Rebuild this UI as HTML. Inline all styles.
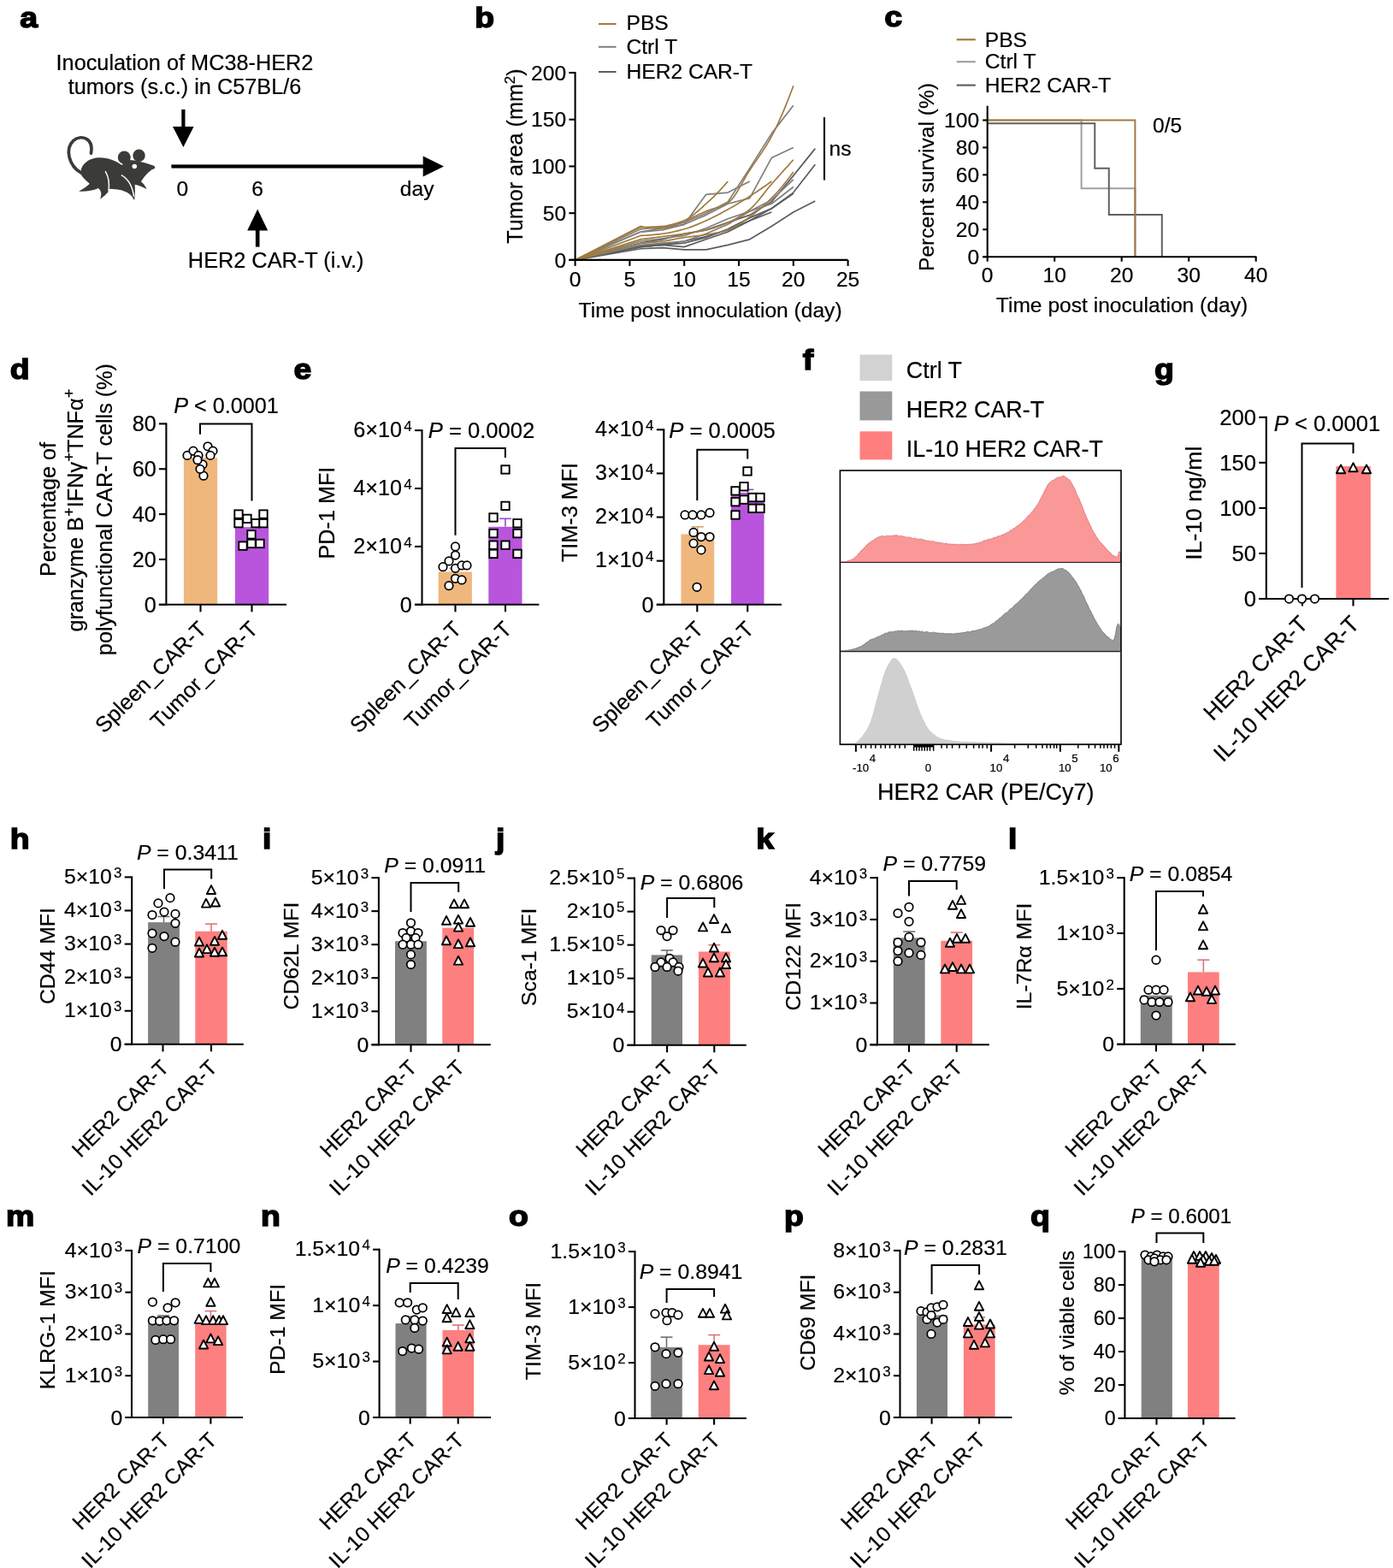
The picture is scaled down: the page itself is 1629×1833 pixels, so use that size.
<!DOCTYPE html>
<html><head><meta charset="utf-8"><title>Figure</title>
<style>
html,body{margin:0;padding:0;background:#fff;}
svg{display:block;}
text{font-family:"Liberation Sans", Arial, Helvetica, sans-serif;stroke:#000;stroke-width:0.2px;}
</style></head>
<body>
<svg width="1629" height="1833" viewBox="0 0 1629 1833">
<rect width="1629" height="1833" fill="#fff"/>
<text transform="translate(23.30,32.00) scale(1.1,1)" font-size="34" font-weight="bold" style="stroke-width:1.5px">a</text>
<text x="216.00" y="81.50" font-size="25.3" text-anchor="middle">Inoculation of MC38-HER2</text>
<text x="216.00" y="110.00" font-size="25.3" text-anchor="middle">tumors (s.c.) in C57BL/6</text>
<rect x="212.30" y="128.00" width="4.20" height="22.00" fill="#000"/>
<polygon points="202.00,148.00 226.60,148.00 214.40,172.00" fill="#000"/>
<rect x="200.40" y="192.40" width="296.00" height="4.20" fill="#000"/>
<polygon points="494.70,182.60 519.00,194.50 494.70,206.40" fill="#000"/>
<text x="213.30" y="228.70" font-size="24.6" text-anchor="middle">0</text>
<text x="301.20" y="228.70" font-size="24.6" text-anchor="middle">6</text>
<text x="507.50" y="228.70" font-size="24.6" text-anchor="end">day</text>
<polygon points="301.20,244.60 313.20,269.50 289.20,269.50" fill="#000"/>
<rect x="298.90" y="268.00" width="4.60" height="20.60" fill="#000"/>
<text x="322.70" y="313.40" font-size="25.3" text-anchor="middle">HER2 CAR-T (i.v.)</text>
<g transform="translate(70,150) scale(0.073665)">
<path d="M 335 705 C 150 600, 70 330, 215 195 C 330 95, 540 150, 495 395" fill="none" stroke="#3b3b37" stroke-width="50" stroke-linecap="round"/>
<path d="M 340 640 C 380 540, 480 470, 620 465 C 760 460, 900 520, 985 585 L 1000 500 L 1140 505 C 1250 515, 1380 555, 1480 590 C 1525 605, 1520 645, 1465 652 C 1400 700, 1320 780, 1290 850 C 1330 880, 1360 920, 1378 968 C 1310 925, 1250 905, 1190 892 C 1195 960, 1195 1060, 1182 1142 C 1120 1030, 1050 975, 790 962 C 780 1020, 700 1080, 640 1125 C 660 1060, 670 1000, 610 950 C 520 990, 400 1010, 300 1000 C 380 960, 440 915, 472 880 C 400 820, 350 770, 330 720 Z" fill="#3b3b37"/>
<circle cx="1022" cy="462" r="102" fill="#3b3b37"/>
<circle cx="1256" cy="432" r="98" fill="#3b3b37"/>
<circle cx="1185" cy="605" r="38" fill="#fff"/>
<path d="M 935 530 A 108 108 0 0 0 1000 572" fill="none" stroke="#fff" stroke-width="12"/>
<path d="M 1128 470 L 1152 505 L 1160 460 Z" fill="#fff"/>
<path d="M 722 680 C 780 780, 792 880, 772 1000" fill="none" stroke="#fff" stroke-width="20"/>
<path d="M 975 742 C 1080 800, 1150 900, 1176 1085" fill="none" stroke="#fff" stroke-width="20"/>
</g>
<text transform="translate(555.30,31.70) scale(1.1,1)" font-size="34" font-weight="bold" style="stroke-width:1.5px">b</text>
<line x1="700.00" y1="28.00" x2="720.50" y2="28.00" stroke="#a07b3e" stroke-width="2.0" stroke-linecap="butt"/>
<text x="732.50" y="35.40" font-size="24.6">PBS</text>
<line x1="700.00" y1="54.80" x2="720.50" y2="54.80" stroke="#7f7f7f" stroke-width="2.0" stroke-linecap="butt"/>
<text x="732.50" y="62.90" font-size="24.6">Ctrl T</text>
<line x1="700.00" y1="84.00" x2="720.50" y2="84.00" stroke="#5a5d60" stroke-width="2.0" stroke-linecap="butt"/>
<text x="732.50" y="92.30" font-size="24.6">HER2 CAR-T</text>
<polyline points="672.60,303.90 749.16,290.77 774.68,289.67 800.20,291.86 825.72,291.86 851.24,286.39 876.76,279.82 902.28,264.50 927.80,248.08 953.32,234.95" fill="none" stroke="#5a5d60" stroke-width="1.7" stroke-linejoin="round"/>
<polyline points="672.60,303.90 749.16,288.58 774.68,286.39 800.20,288.58 825.72,279.82 851.24,271.06 876.76,257.93 902.28,243.70 927.80,225.10 953.32,192.26" fill="none" stroke="#5a5d60" stroke-width="1.7" stroke-linejoin="round"/>
<polyline points="672.60,303.90 749.16,284.20 774.68,279.82 800.20,273.25 825.72,268.88 851.24,260.12 876.76,251.36 902.28,236.04 927.80,205.39 953.32,173.65" fill="none" stroke="#5a5d60" stroke-width="1.7" stroke-linejoin="round"/>
<polyline points="672.60,303.90 749.16,287.48 774.68,285.29 800.20,282.01 825.72,276.54 851.24,268.88 876.76,257.93 902.28,248.08" fill="none" stroke="#5a5d60" stroke-width="1.7" stroke-linejoin="round"/>
<polyline points="672.60,303.90 749.16,288.58 774.68,286.39 800.20,284.20 825.72,277.63 851.24,267.78 876.76,254.65 902.28,243.70 927.80,226.19" fill="none" stroke="#5a5d60" stroke-width="1.7" stroke-linejoin="round"/>
<polyline points="672.60,303.90 749.16,286.39 774.68,284.20 800.20,282.01 825.72,273.25 851.24,262.31 876.76,246.99 902.28,238.23 927.80,218.53" fill="none" stroke="#7f7f7f" stroke-width="1.7" stroke-linejoin="round"/>
<polyline points="672.60,303.90 749.16,271.06 774.68,268.88 800.20,262.31 825.72,227.28 851.24,225.10 876.76,211.96" fill="none" stroke="#7f7f7f" stroke-width="1.7" stroke-linejoin="round"/>
<polyline points="672.60,303.90 749.16,271.06 774.68,266.69 800.20,262.31 825.72,251.36 851.24,238.23 876.76,231.66 902.28,184.60 927.80,172.56" fill="none" stroke="#7f7f7f" stroke-width="1.7" stroke-linejoin="round"/>
<polyline points="672.60,303.90 749.16,267.78 774.68,265.59 800.20,260.12 825.72,249.17 851.24,236.04 876.76,196.64 902.28,156.14 927.80,123.31" fill="none" stroke="#7f7f7f" stroke-width="1.7" stroke-linejoin="round"/>
<polyline points="672.60,303.90 749.16,282.01 774.68,278.73 800.20,275.44 825.72,266.69 851.24,255.74 876.76,246.99 902.28,233.85 927.80,209.77" fill="none" stroke="#7f7f7f" stroke-width="1.7" stroke-linejoin="round"/>
<polyline points="672.60,303.90 749.16,284.20 752.14,284.05 755.11,283.87 758.09,283.65 761.07,283.41 764.05,283.14 767.02,282.84 770.00,282.53 772.98,282.20 775.96,281.86 778.93,281.43 781.91,280.95 784.89,280.41 787.87,279.84 790.84,279.27 793.82,278.71 796.80,278.18 799.77,277.70 802.75,277.27 805.73,276.89 808.71,276.53 811.68,276.18 814.66,275.84 817.64,275.48 820.62,275.10 823.59,274.68 826.57,274.21 829.55,273.73 832.53,273.22 835.50,272.69 838.48,272.11 841.46,271.48 844.43,270.78 847.41,270.00 850.39,269.14 853.37,268.12 856.34,266.83 859.32,265.28 862.30,263.53 865.28,261.62 868.25,259.60 871.23,257.50 874.21,255.37 877.19,253.25 880.16,251.08 883.14,248.79 886.12,246.41 889.09,243.91 892.07,241.32 895.05,238.62 898.03,235.82 901.00,232.93 903.98,229.93 906.96,226.79 909.94,223.50 912.91,220.06 915.89,216.49 918.87,212.80 921.85,208.98 924.82,205.05 927.80,201.02" fill="none" stroke="#a07b3e" stroke-width="1.7" stroke-linejoin="round"/>
<polyline points="672.60,303.90 749.16,279.82 752.14,279.44 755.11,279.05 758.09,278.67 761.07,278.29 764.05,277.91 767.02,277.52 770.00,277.14 772.98,276.76 775.96,276.37 778.93,276.00 781.91,275.63 784.89,275.27 787.87,274.90 790.84,274.53 793.82,274.14 796.80,273.74 799.77,273.32 802.75,272.88 805.73,272.44 808.71,272.00 811.68,271.53 814.66,271.04 817.64,270.52 820.62,269.96 823.59,269.35 826.57,268.68 829.55,267.92 832.53,267.08 835.50,266.16 838.48,265.16 841.46,264.09 844.43,262.95 847.41,261.75 850.39,260.49 853.37,259.17 856.34,257.75 859.32,256.22 862.30,254.58 865.28,252.82 868.25,250.93 871.23,248.92 874.21,246.76 877.19,244.46 880.16,241.79 883.14,238.70 886.12,235.29 889.09,231.66 892.07,227.89 895.05,224.08 898.03,220.32 901.00,216.72 903.98,213.31 906.96,209.95 909.94,206.59 912.91,203.26 915.89,199.93 918.87,196.62 921.85,193.33 924.82,190.05 927.80,186.79" fill="none" stroke="#a07b3e" stroke-width="1.7" stroke-linejoin="round"/>
<polyline points="672.60,303.90 749.16,264.50 750.86,264.91 752.56,265.26 754.26,265.57 755.97,265.82 757.67,266.04 759.37,266.21 761.07,266.35 762.77,266.46 764.47,266.55 766.17,266.61 767.87,266.65 769.58,266.67 771.28,266.68 772.98,266.69 774.68,266.69 776.38,266.63 778.08,266.45 779.78,266.16 781.49,265.78 783.19,265.31 784.89,264.77 786.59,264.15 788.29,263.48 789.99,262.76 791.69,262.00 793.39,261.21 795.10,260.39 796.80,259.57 798.50,258.75 800.20,257.93 801.90,257.07 803.60,256.11 805.30,255.05 807.01,253.91 808.71,252.70 810.41,251.41 812.11,250.07 813.81,248.68 815.51,247.24 817.21,245.78 818.91,244.28 820.62,242.77 822.32,241.26 824.02,239.74 825.72,238.23 827.42,236.71 829.12,235.15 830.82,233.56 832.53,231.93 834.23,230.27 835.93,228.58 837.63,226.85 839.33,225.09 841.03,223.30 842.73,221.48 844.43,219.63 846.14,217.76 847.84,215.85 849.54,213.92 851.24,211.96" fill="none" stroke="#a07b3e" stroke-width="1.7" stroke-linejoin="round"/>
<polyline points="672.60,303.90 749.16,275.44 751.71,275.37 754.26,275.25 756.82,275.09 759.37,274.89 761.92,274.67 764.47,274.42 767.02,274.15 769.58,273.86 772.13,273.56 774.68,273.25 777.23,272.91 779.78,272.51 782.34,272.06 784.89,271.55 787.44,271.01 789.99,270.42 792.54,269.80 795.10,269.15 797.65,268.48 800.20,267.78 802.75,267.04 805.30,266.22 807.86,265.33 810.41,264.38 812.96,263.38 815.51,262.34 818.06,261.27 820.62,260.17 823.17,259.06 825.72,257.93 828.27,256.78 830.82,255.58 833.38,254.33 835.93,253.04 838.48,251.72 841.03,250.38 843.58,249.00 846.14,247.61 848.69,246.21 851.24,244.80 853.79,243.37 856.34,241.92 858.90,240.44 861.45,238.94 864.00,237.41 866.55,235.86 869.10,234.30 871.66,232.71 874.21,231.10 876.76,229.47 879.31,227.83 881.86,226.16 884.42,224.46 886.97,222.74 889.52,221.00 892.07,219.24 894.62,217.45 897.18,215.64 899.73,213.81 902.28,211.96" fill="none" stroke="#a07b3e" stroke-width="1.7" stroke-linejoin="round"/>
<polyline points="672.60,303.90 749.16,265.59 752.14,265.57 755.11,265.52 758.09,265.43 761.07,265.32 764.05,265.18 767.02,265.01 770.00,264.82 772.98,264.62 775.96,264.39 778.93,263.98 781.91,263.41 784.89,262.70 787.87,261.88 790.84,260.98 793.82,260.02 796.80,259.04 799.77,258.07 802.75,257.05 805.73,255.90 808.71,254.65 811.68,253.31 814.66,251.94 817.64,250.55 820.62,249.19 823.59,247.88 826.57,246.65 829.55,245.56 832.53,244.59 835.50,243.66 838.48,242.72 841.46,241.71 844.43,240.57 847.41,239.23 850.39,237.64 853.37,235.53 856.34,232.39 859.32,228.39 862.30,223.74 865.28,218.66 868.25,213.35 871.23,208.03 874.21,202.91 877.19,198.18 880.16,193.75 883.14,189.42 886.12,185.13 889.09,180.81 892.07,176.37 895.05,171.77 898.03,166.92 901.00,161.75 903.98,156.21 906.96,150.31 909.94,144.05 912.91,137.47 915.89,130.58 918.87,123.41 921.85,115.96 924.82,108.26 927.80,100.32" fill="none" stroke="#a07b3e" stroke-width="1.7" stroke-linejoin="round"/>
<line x1="672.60" y1="84.00" x2="672.60" y2="304.90" stroke="#000" stroke-width="2.1" stroke-linecap="butt"/>
<line x1="665.40" y1="303.90" x2="991.50" y2="303.90" stroke="#000" stroke-width="2.1" stroke-linecap="butt"/>
<line x1="665.40" y1="303.90" x2="672.60" y2="303.90" stroke="#000" stroke-width="2.1" stroke-linecap="butt"/>
<text x="662.10" y="312.50" font-size="24.6" text-anchor="end">0</text>
<line x1="665.40" y1="249.17" x2="672.60" y2="249.17" stroke="#000" stroke-width="2.1" stroke-linecap="butt"/>
<text x="662.10" y="257.77" font-size="24.6" text-anchor="end">50</text>
<line x1="665.40" y1="194.45" x2="672.60" y2="194.45" stroke="#000" stroke-width="2.1" stroke-linecap="butt"/>
<text x="662.10" y="203.05" font-size="24.6" text-anchor="end">100</text>
<line x1="665.40" y1="139.72" x2="672.60" y2="139.72" stroke="#000" stroke-width="2.1" stroke-linecap="butt"/>
<text x="662.10" y="148.32" font-size="24.6" text-anchor="end">150</text>
<line x1="665.40" y1="85.00" x2="672.60" y2="85.00" stroke="#000" stroke-width="2.1" stroke-linecap="butt"/>
<text x="662.10" y="93.60" font-size="24.6" text-anchor="end">200</text>
<line x1="672.60" y1="303.90" x2="672.60" y2="310.90" stroke="#000" stroke-width="2.1" stroke-linecap="butt"/>
<text x="672.60" y="334.70" font-size="24.6" text-anchor="middle">0</text>
<line x1="736.40" y1="303.90" x2="736.40" y2="310.90" stroke="#000" stroke-width="2.1" stroke-linecap="butt"/>
<text x="736.40" y="334.70" font-size="24.6" text-anchor="middle">5</text>
<line x1="800.20" y1="303.90" x2="800.20" y2="310.90" stroke="#000" stroke-width="2.1" stroke-linecap="butt"/>
<text x="800.20" y="334.70" font-size="24.6" text-anchor="middle">10</text>
<line x1="864.00" y1="303.90" x2="864.00" y2="310.90" stroke="#000" stroke-width="2.1" stroke-linecap="butt"/>
<text x="864.00" y="334.70" font-size="24.6" text-anchor="middle">15</text>
<line x1="927.80" y1="303.90" x2="927.80" y2="310.90" stroke="#000" stroke-width="2.1" stroke-linecap="butt"/>
<text x="927.80" y="334.70" font-size="24.6" text-anchor="middle">20</text>
<line x1="991.60" y1="303.90" x2="991.60" y2="310.90" stroke="#000" stroke-width="2.1" stroke-linecap="butt"/>
<text x="991.60" y="334.70" font-size="24.6" text-anchor="middle">25</text>
<text x="830.60" y="370.70" font-size="24.6" text-anchor="middle">Time post innoculation (day)</text>
<text transform="translate(611.00,182.50) rotate(-90)" font-size="25.2" text-anchor="middle">Tumor area (mm<tspan font-size="17" dy="-9.5">2</tspan><tspan dy="9.5">)</tspan></text>
<line x1="964.00" y1="137.00" x2="964.00" y2="210.60" stroke="#000" stroke-width="2.1" stroke-linecap="butt"/>
<text x="969.50" y="181.80" font-size="24.6">ns</text>
<text transform="translate(1034.30,31.00) scale(1.1,1)" font-size="34" font-weight="bold" style="stroke-width:1.5px">c</text>
<line x1="1118.70" y1="46.30" x2="1140.80" y2="46.30" stroke="#a07b3e" stroke-width="2.2" stroke-linecap="butt"/>
<text x="1151.80" y="54.50" font-size="24.6">PBS</text>
<line x1="1118.70" y1="72.20" x2="1140.80" y2="72.20" stroke="#a0a0a0" stroke-width="2.2" stroke-linecap="butt"/>
<text x="1151.80" y="80.40" font-size="24.6">Ctrl T</text>
<line x1="1118.70" y1="99.60" x2="1140.80" y2="99.60" stroke="#606060" stroke-width="2.2" stroke-linecap="butt"/>
<text x="1151.80" y="107.50" font-size="24.6">HER2 CAR-T</text>
<polyline points="1154.70,140.50 1264.60,140.50 1264.60,220.35 1327.40,220.35 1327.40,300.20" fill="none" stroke="#a0a0a0" stroke-width="2.0" stroke-linejoin="miter"/>
<polyline points="1154.70,144.33 1280.30,144.33 1280.30,196.71 1296.79,196.71 1296.79,251.01 1358.80,251.01 1358.80,300.20" fill="none" stroke="#606060" stroke-width="2.0" stroke-linejoin="miter"/>
<polyline points="1154.70,140.50 1327.40,140.50 1327.40,300.20" fill="none" stroke="#a07b3e" stroke-width="2.0" stroke-linejoin="miter"/>
<line x1="1154.70" y1="123.70" x2="1154.70" y2="301.20" stroke="#000" stroke-width="2.1" stroke-linecap="butt"/>
<line x1="1149.20" y1="300.20" x2="1469.50" y2="300.20" stroke="#000" stroke-width="2.1" stroke-linecap="butt"/>
<line x1="1149.20" y1="300.20" x2="1154.70" y2="300.20" stroke="#000" stroke-width="2.1" stroke-linecap="butt"/>
<text x="1145.10" y="308.80" font-size="24.6" text-anchor="end">0</text>
<line x1="1149.20" y1="268.26" x2="1154.70" y2="268.26" stroke="#000" stroke-width="2.1" stroke-linecap="butt"/>
<text x="1145.10" y="276.86" font-size="24.6" text-anchor="end">20</text>
<line x1="1149.20" y1="236.32" x2="1154.70" y2="236.32" stroke="#000" stroke-width="2.1" stroke-linecap="butt"/>
<text x="1145.10" y="244.92" font-size="24.6" text-anchor="end">40</text>
<line x1="1149.20" y1="204.38" x2="1154.70" y2="204.38" stroke="#000" stroke-width="2.1" stroke-linecap="butt"/>
<text x="1145.10" y="212.98" font-size="24.6" text-anchor="end">60</text>
<line x1="1149.20" y1="172.44" x2="1154.70" y2="172.44" stroke="#000" stroke-width="2.1" stroke-linecap="butt"/>
<text x="1145.10" y="181.04" font-size="24.6" text-anchor="end">80</text>
<line x1="1149.20" y1="140.50" x2="1154.70" y2="140.50" stroke="#000" stroke-width="2.1" stroke-linecap="butt"/>
<text x="1145.10" y="149.10" font-size="24.6" text-anchor="end">100</text>
<line x1="1154.70" y1="300.20" x2="1154.70" y2="305.70" stroke="#000" stroke-width="2.1" stroke-linecap="butt"/>
<text x="1154.70" y="330.00" font-size="24.6" text-anchor="middle">0</text>
<line x1="1233.20" y1="300.20" x2="1233.20" y2="305.70" stroke="#000" stroke-width="2.1" stroke-linecap="butt"/>
<text x="1233.20" y="330.00" font-size="24.6" text-anchor="middle">10</text>
<line x1="1311.70" y1="300.20" x2="1311.70" y2="305.70" stroke="#000" stroke-width="2.1" stroke-linecap="butt"/>
<text x="1311.70" y="330.00" font-size="24.6" text-anchor="middle">20</text>
<line x1="1390.20" y1="300.20" x2="1390.20" y2="305.70" stroke="#000" stroke-width="2.1" stroke-linecap="butt"/>
<text x="1390.20" y="330.00" font-size="24.6" text-anchor="middle">30</text>
<line x1="1468.70" y1="300.20" x2="1468.70" y2="305.70" stroke="#000" stroke-width="2.1" stroke-linecap="butt"/>
<text x="1468.70" y="330.00" font-size="24.6" text-anchor="middle">40</text>
<text x="1312.00" y="365.40" font-size="24.6" text-anchor="middle">Time post inoculation (day)</text>
<text transform="translate(1091.50,207.00) rotate(-90)" font-size="24.6" text-anchor="middle">Percent survival (%)</text>
<text x="1348.00" y="154.70" font-size="24.6">0/5</text>
<rect x="214.90" y="535.04" width="39.30" height="171.76" fill="#f0b77d"/>
<rect x="274.90" y="616.16" width="39.30" height="90.64" fill="#b855dc"/>
<line x1="194.40" y1="494.40" x2="194.40" y2="707.85" stroke="#000" stroke-width="2.1" stroke-linecap="butt"/>
<line x1="185.90" y1="706.80" x2="335.00" y2="706.80" stroke="#000" stroke-width="2.1" stroke-linecap="butt"/>
<line x1="185.90" y1="706.80" x2="194.40" y2="706.80" stroke="#000" stroke-width="2.1" stroke-linecap="butt"/>
<text x="182.70" y="715.62" font-size="25.2" text-anchor="end">0</text>
<line x1="185.90" y1="653.95" x2="194.40" y2="653.95" stroke="#000" stroke-width="2.1" stroke-linecap="butt"/>
<text x="182.70" y="662.77" font-size="25.2" text-anchor="end">20</text>
<line x1="185.90" y1="601.10" x2="194.40" y2="601.10" stroke="#000" stroke-width="2.1" stroke-linecap="butt"/>
<text x="182.70" y="609.92" font-size="25.2" text-anchor="end">40</text>
<line x1="185.90" y1="548.25" x2="194.40" y2="548.25" stroke="#000" stroke-width="2.1" stroke-linecap="butt"/>
<text x="182.70" y="557.07" font-size="25.2" text-anchor="end">60</text>
<line x1="185.90" y1="495.40" x2="194.40" y2="495.40" stroke="#000" stroke-width="2.1" stroke-linecap="butt"/>
<text x="182.70" y="504.22" font-size="25.2" text-anchor="end">80</text>
<line x1="234.50" y1="706.80" x2="234.50" y2="715.30" stroke="#000" stroke-width="2.1" stroke-linecap="butt"/>
<line x1="294.50" y1="706.80" x2="294.50" y2="715.30" stroke="#000" stroke-width="2.1" stroke-linecap="butt"/>
<circle cx="219.00" cy="532.39" r="4.75" fill="#fff" stroke="#000" stroke-width="1.75"/>
<circle cx="226.00" cy="527.11" r="4.75" fill="#fff" stroke="#000" stroke-width="1.75"/>
<circle cx="232.00" cy="532.39" r="4.75" fill="#fff" stroke="#000" stroke-width="1.75"/>
<circle cx="237.00" cy="542.96" r="4.75" fill="#fff" stroke="#000" stroke-width="1.75"/>
<circle cx="243.00" cy="521.83" r="4.75" fill="#fff" stroke="#000" stroke-width="1.75"/>
<circle cx="249.00" cy="527.11" r="4.75" fill="#fff" stroke="#000" stroke-width="1.75"/>
<circle cx="246.00" cy="532.39" r="4.75" fill="#fff" stroke="#000" stroke-width="1.75"/>
<circle cx="238.00" cy="556.18" r="4.75" fill="#fff" stroke="#000" stroke-width="1.75"/>
<circle cx="234.00" cy="548.25" r="4.75" fill="#fff" stroke="#000" stroke-width="1.75"/>
<circle cx="231.00" cy="537.68" r="4.75" fill="#fff" stroke="#000" stroke-width="1.75"/>
<rect x="274.30" y="596.40" width="9.4" height="9.4" fill="#fff" stroke="#000" stroke-width="1.9"/>
<rect x="274.30" y="606.97" width="9.4" height="9.4" fill="#fff" stroke="#000" stroke-width="1.9"/>
<rect x="284.30" y="601.68" width="9.4" height="9.4" fill="#fff" stroke="#000" stroke-width="1.9"/>
<rect x="294.30" y="606.97" width="9.4" height="9.4" fill="#fff" stroke="#000" stroke-width="1.9"/>
<rect x="303.30" y="596.40" width="9.4" height="9.4" fill="#fff" stroke="#000" stroke-width="1.9"/>
<rect x="303.30" y="606.97" width="9.4" height="9.4" fill="#fff" stroke="#000" stroke-width="1.9"/>
<rect x="289.30" y="620.18" width="9.4" height="9.4" fill="#fff" stroke="#000" stroke-width="1.9"/>
<rect x="279.30" y="633.39" width="9.4" height="9.4" fill="#fff" stroke="#000" stroke-width="1.9"/>
<rect x="289.30" y="630.75" width="9.4" height="9.4" fill="#fff" stroke="#000" stroke-width="1.9"/>
<rect x="299.30" y="630.75" width="9.4" height="9.4" fill="#fff" stroke="#000" stroke-width="1.9"/>
<polyline points="234.00,507.70 234.00,495.40 294.50,495.40 294.50,585.40" fill="none" stroke="#000" stroke-width="2.0" stroke-linejoin="miter"/>
<text x="264.50" y="483.20" font-size="25.2" text-anchor="middle"><tspan font-style="italic">P</tspan> &lt; 0.0001</text>
<text transform="translate(243.00,737.00) rotate(-45)" font-size="25.5" text-anchor="end">Spleen_CAR-T</text>
<text transform="translate(303.00,737.00) rotate(-45)" font-size="25.5" text-anchor="end">Tumor_CAR-T</text>
<text transform="translate(11.80,443.30) scale(1.1,1)" font-size="34" font-weight="bold" style="stroke-width:1.5px">d</text>
<text transform="translate(64.80,595.50) rotate(-90)" font-size="25.2" text-anchor="middle">Percentage of</text>
<text transform="translate(96.60,596.50) rotate(-90)" font-size="25.2" text-anchor="middle">granzyme B<tspan font-size="18" dx="0.5" dy="-9.5">+</tspan><tspan dy="9.5">IFNγ</tspan><tspan font-size="18" dx="0.5" dy="-9.5">+</tspan><tspan dy="9.5">TNFα</tspan><tspan font-size="18" dx="0.5" dy="-9.5">+</tspan></text>
<text transform="translate(130.80,595.60) rotate(-90)" font-size="25.2" text-anchor="middle">polyfunctional CAR-T cells (%)</text>
<rect x="512.60" y="668.44" width="39.30" height="38.36" fill="#f0b77d"/>
<rect x="571.30" y="615.81" width="39.20" height="90.99" fill="#b855dc"/>
<line x1="532.25" y1="668.44" x2="532.25" y2="664.36" stroke="#d8a070" stroke-width="1.6" stroke-linecap="butt"/>
<line x1="525.25" y1="664.36" x2="539.25" y2="664.36" stroke="#d8a070" stroke-width="1.6" stroke-linecap="butt"/>
<line x1="590.90" y1="615.81" x2="590.90" y2="606.31" stroke="#a048c8" stroke-width="1.6" stroke-linecap="butt"/>
<line x1="583.90" y1="606.31" x2="597.90" y2="606.31" stroke="#a048c8" stroke-width="1.6" stroke-linecap="butt"/>
<line x1="493.50" y1="502.10" x2="493.50" y2="707.85" stroke="#000" stroke-width="2.1" stroke-linecap="butt"/>
<line x1="485.00" y1="706.80" x2="630.40" y2="706.80" stroke="#000" stroke-width="2.1" stroke-linecap="butt"/>
<line x1="485.00" y1="706.80" x2="493.50" y2="706.80" stroke="#000" stroke-width="2.1" stroke-linecap="butt"/>
<text x="481.80" y="715.62" font-size="25.2" text-anchor="end">0</text>
<line x1="485.00" y1="638.90" x2="493.50" y2="638.90" stroke="#000" stroke-width="2.1" stroke-linecap="butt"/>
<text x="481.80" y="646.71" font-size="25.2" text-anchor="end">2×10<tspan font-size="17.136" dx="2.268" dy="-7.056">4</tspan></text>
<line x1="485.00" y1="571.00" x2="493.50" y2="571.00" stroke="#000" stroke-width="2.1" stroke-linecap="butt"/>
<text x="481.80" y="578.81" font-size="25.2" text-anchor="end">4×10<tspan font-size="17.136" dx="2.268" dy="-7.056">4</tspan></text>
<line x1="485.00" y1="503.10" x2="493.50" y2="503.10" stroke="#000" stroke-width="2.1" stroke-linecap="butt"/>
<text x="481.80" y="510.91" font-size="25.2" text-anchor="end">6×10<tspan font-size="17.136" dx="2.268" dy="-7.056">4</tspan></text>
<line x1="532.50" y1="706.80" x2="532.50" y2="715.30" stroke="#000" stroke-width="2.1" stroke-linecap="butt"/>
<line x1="591.00" y1="706.80" x2="591.00" y2="715.30" stroke="#000" stroke-width="2.1" stroke-linecap="butt"/>
<circle cx="532.50" cy="638.90" r="4.75" fill="#fff" stroke="#000" stroke-width="1.75"/>
<circle cx="532.50" cy="649.08" r="4.75" fill="#fff" stroke="#000" stroke-width="1.75"/>
<circle cx="525.00" cy="655.88" r="4.75" fill="#fff" stroke="#000" stroke-width="1.75"/>
<circle cx="518.00" cy="662.66" r="4.75" fill="#fff" stroke="#000" stroke-width="1.75"/>
<circle cx="532.50" cy="664.36" r="4.75" fill="#fff" stroke="#000" stroke-width="1.75"/>
<circle cx="540.00" cy="660.97" r="4.75" fill="#fff" stroke="#000" stroke-width="1.75"/>
<circle cx="546.00" cy="660.97" r="4.75" fill="#fff" stroke="#000" stroke-width="1.75"/>
<circle cx="532.50" cy="676.25" r="4.75" fill="#fff" stroke="#000" stroke-width="1.75"/>
<circle cx="540.00" cy="677.94" r="4.75" fill="#fff" stroke="#000" stroke-width="1.75"/>
<circle cx="525.00" cy="684.73" r="4.75" fill="#fff" stroke="#000" stroke-width="1.75"/>
<rect x="586.30" y="544.23" width="9.4" height="9.4" fill="#fff" stroke="#000" stroke-width="1.9"/>
<rect x="586.30" y="586.67" width="9.4" height="9.4" fill="#fff" stroke="#000" stroke-width="1.9"/>
<rect x="572.30" y="600.25" width="9.4" height="9.4" fill="#fff" stroke="#000" stroke-width="1.9"/>
<rect x="600.30" y="607.04" width="9.4" height="9.4" fill="#fff" stroke="#000" stroke-width="1.9"/>
<rect x="572.30" y="618.92" width="9.4" height="9.4" fill="#fff" stroke="#000" stroke-width="1.9"/>
<rect x="600.30" y="618.92" width="9.4" height="9.4" fill="#fff" stroke="#000" stroke-width="1.9"/>
<rect x="572.30" y="632.50" width="9.4" height="9.4" fill="#fff" stroke="#000" stroke-width="1.9"/>
<rect x="586.30" y="632.50" width="9.4" height="9.4" fill="#fff" stroke="#000" stroke-width="1.9"/>
<rect x="572.30" y="642.69" width="9.4" height="9.4" fill="#fff" stroke="#000" stroke-width="1.9"/>
<rect x="600.30" y="642.69" width="9.4" height="9.4" fill="#fff" stroke="#000" stroke-width="1.9"/>
<polyline points="532.50,625.80 532.50,524.10 590.90,524.10 590.90,535.00" fill="none" stroke="#000" stroke-width="2.0" stroke-linejoin="miter"/>
<text x="563.00" y="511.50" font-size="25.6" text-anchor="middle"><tspan font-style="italic">P</tspan> = 0.0002</text>
<text transform="translate(391.30,599.60) rotate(-90)" font-size="25.2" text-anchor="middle">PD-1 MFI</text>
<text transform="translate(541.00,737.00) rotate(-45)" font-size="25.5" text-anchor="end">Spleen_CAR-T</text>
<text transform="translate(600.00,737.00) rotate(-45)" font-size="25.5" text-anchor="end">Tumor_CAR-T</text>
<text transform="translate(343.50,443.30) scale(1.1,1)" font-size="34" font-weight="bold" style="stroke-width:1.5px">e</text>
<rect x="796.40" y="624.49" width="38.80" height="82.31" fill="#f0b77d"/>
<rect x="855.00" y="575.92" width="38.50" height="130.88" fill="#b855dc"/>
<line x1="815.80" y1="624.49" x2="815.80" y2="615.80" stroke="#d8a070" stroke-width="1.6" stroke-linecap="butt"/>
<line x1="808.80" y1="615.80" x2="822.80" y2="615.80" stroke="#d8a070" stroke-width="1.6" stroke-linecap="butt"/>
<line x1="874.25" y1="575.92" x2="874.25" y2="572.34" stroke="#a048c8" stroke-width="1.6" stroke-linecap="butt"/>
<line x1="867.25" y1="572.34" x2="881.25" y2="572.34" stroke="#a048c8" stroke-width="1.6" stroke-linecap="butt"/>
<line x1="776.30" y1="501.30" x2="776.30" y2="707.85" stroke="#000" stroke-width="2.1" stroke-linecap="butt"/>
<line x1="767.80" y1="706.80" x2="914.00" y2="706.80" stroke="#000" stroke-width="2.1" stroke-linecap="butt"/>
<line x1="767.80" y1="706.80" x2="776.30" y2="706.80" stroke="#000" stroke-width="2.1" stroke-linecap="butt"/>
<text x="764.60" y="715.62" font-size="25.2" text-anchor="end">0</text>
<line x1="767.80" y1="655.67" x2="776.30" y2="655.67" stroke="#000" stroke-width="2.1" stroke-linecap="butt"/>
<text x="764.60" y="663.49" font-size="25.2" text-anchor="end">1×10<tspan font-size="17.136" dx="2.268" dy="-7.056">4</tspan></text>
<line x1="767.80" y1="604.55" x2="776.30" y2="604.55" stroke="#000" stroke-width="2.1" stroke-linecap="butt"/>
<text x="764.60" y="612.36" font-size="25.2" text-anchor="end">2×10<tspan font-size="17.136" dx="2.268" dy="-7.056">4</tspan></text>
<line x1="767.80" y1="553.42" x2="776.30" y2="553.42" stroke="#000" stroke-width="2.1" stroke-linecap="butt"/>
<text x="764.60" y="561.24" font-size="25.2" text-anchor="end">3×10<tspan font-size="17.136" dx="2.268" dy="-7.056">4</tspan></text>
<line x1="767.80" y1="502.30" x2="776.30" y2="502.30" stroke="#000" stroke-width="2.1" stroke-linecap="butt"/>
<text x="764.60" y="510.11" font-size="25.2" text-anchor="end">4×10<tspan font-size="17.136" dx="2.268" dy="-7.056">4</tspan></text>
<line x1="815.30" y1="706.80" x2="815.30" y2="715.30" stroke="#000" stroke-width="2.1" stroke-linecap="butt"/>
<line x1="874.20" y1="706.80" x2="874.20" y2="715.30" stroke="#000" stroke-width="2.1" stroke-linecap="butt"/>
<circle cx="801.00" cy="601.99" r="4.75" fill="#fff" stroke="#000" stroke-width="1.75"/>
<circle cx="810.00" cy="601.99" r="4.75" fill="#fff" stroke="#000" stroke-width="1.75"/>
<circle cx="820.00" cy="601.99" r="4.75" fill="#fff" stroke="#000" stroke-width="1.75"/>
<circle cx="830.00" cy="599.44" r="4.75" fill="#fff" stroke="#000" stroke-width="1.75"/>
<circle cx="811.00" cy="622.44" r="4.75" fill="#fff" stroke="#000" stroke-width="1.75"/>
<circle cx="820.00" cy="627.56" r="4.75" fill="#fff" stroke="#000" stroke-width="1.75"/>
<circle cx="811.00" cy="635.23" r="4.75" fill="#fff" stroke="#000" stroke-width="1.75"/>
<circle cx="830.00" cy="627.56" r="4.75" fill="#fff" stroke="#000" stroke-width="1.75"/>
<circle cx="820.00" cy="642.89" r="4.75" fill="#fff" stroke="#000" stroke-width="1.75"/>
<circle cx="815.00" cy="686.35" r="4.75" fill="#fff" stroke="#000" stroke-width="1.75"/>
<rect x="869.30" y="546.17" width="9.4" height="9.4" fill="#fff" stroke="#000" stroke-width="1.9"/>
<rect x="865.30" y="564.06" width="9.4" height="9.4" fill="#fff" stroke="#000" stroke-width="1.9"/>
<rect x="855.30" y="569.17" width="9.4" height="9.4" fill="#fff" stroke="#000" stroke-width="1.9"/>
<rect x="855.30" y="581.96" width="9.4" height="9.4" fill="#fff" stroke="#000" stroke-width="1.9"/>
<rect x="865.30" y="579.40" width="9.4" height="9.4" fill="#fff" stroke="#000" stroke-width="1.9"/>
<rect x="875.30" y="576.84" width="9.4" height="9.4" fill="#fff" stroke="#000" stroke-width="1.9"/>
<rect x="884.30" y="576.84" width="9.4" height="9.4" fill="#fff" stroke="#000" stroke-width="1.9"/>
<rect x="855.30" y="597.29" width="9.4" height="9.4" fill="#fff" stroke="#000" stroke-width="1.9"/>
<rect x="875.30" y="589.62" width="9.4" height="9.4" fill="#fff" stroke="#000" stroke-width="1.9"/>
<rect x="884.30" y="589.62" width="9.4" height="9.4" fill="#fff" stroke="#000" stroke-width="1.9"/>
<polyline points="815.30,585.00 815.30,525.80 874.20,525.80 874.20,536.50" fill="none" stroke="#000" stroke-width="2.0" stroke-linejoin="miter"/>
<text x="844.50" y="511.50" font-size="25.6" text-anchor="middle"><tspan font-style="italic">P</tspan> = 0.0005</text>
<text transform="translate(675.30,599.00) rotate(-90)" font-size="25.2" text-anchor="middle">TIM-3 MFI</text>
<text transform="translate(824.00,737.00) rotate(-45)" font-size="25.5" text-anchor="end">Spleen_CAR-T</text>
<text transform="translate(883.00,737.00) rotate(-45)" font-size="25.5" text-anchor="end">Tumor_CAR-T</text>
<text transform="translate(938.80,431.50) scale(1.1,1)" font-size="34" font-weight="bold" style="stroke-width:1.5px">f</text>
<rect x="1005.50" y="414.60" width="37.80" height="30.40" fill="#d2d2d2"/>
<text x="1059.80" y="442.20" font-size="26.9">Ctrl T</text>
<rect x="1005.50" y="457.50" width="37.80" height="33.90" fill="#999999"/>
<text x="1059.80" y="488.30" font-size="26.9">HER2 CAR-T</text>
<rect x="1005.50" y="504.30" width="37.80" height="33.10" fill="#ff7f7f"/>
<text x="1059.80" y="534.30" font-size="26.9">IL-10 HER2 CAR-T</text>
<path d="M 983.00,656.90 L 983.00,656.90 L 983.99,656.90 L 984.99,656.89 L 985.98,656.84 L 986.97,656.74 L 987.97,656.59 L 988.96,656.40 L 989.95,656.18 L 990.94,655.92 L 991.94,655.63 L 992.93,655.32 L 993.92,654.98 L 994.92,654.63 L 995.91,654.27 L 996.90,654.15 L 997.90,653.17 L 998.89,652.63 L 999.88,651.46 L 1000.87,650.47 L 1001.87,650.10 L 1002.86,649.08 L 1003.85,647.00 L 1004.85,646.62 L 1005.84,645.62 L 1006.83,643.74 L 1007.83,643.39 L 1008.82,641.92 L 1009.81,641.29 L 1010.80,640.03 L 1011.80,639.55 L 1012.79,637.93 L 1013.78,636.64 L 1014.78,636.11 L 1015.77,634.98 L 1016.76,634.28 L 1017.76,634.33 L 1018.75,632.83 L 1019.74,632.36 L 1020.74,632.06 L 1021.73,631.74 L 1022.72,630.11 L 1023.71,629.98 L 1024.71,629.12 L 1025.70,628.39 L 1026.69,628.11 L 1027.69,627.43 L 1028.68,627.69 L 1029.67,626.89 L 1030.67,627.08 L 1031.66,626.33 L 1032.65,626.32 L 1033.64,627.19 L 1034.64,627.07 L 1035.63,626.91 L 1036.62,625.95 L 1037.62,626.54 L 1038.61,626.26 L 1039.60,626.61 L 1040.60,626.32 L 1041.59,626.43 L 1042.58,626.44 L 1043.57,626.14 L 1044.57,626.12 L 1045.56,625.73 L 1046.55,625.99 L 1047.55,625.70 L 1048.54,625.83 L 1049.53,625.73 L 1050.53,626.21 L 1051.52,626.94 L 1052.51,626.24 L 1053.51,626.26 L 1054.50,626.49 L 1055.49,627.06 L 1056.48,627.05 L 1057.48,627.82 L 1058.47,627.23 L 1059.46,627.69 L 1060.46,628.18 L 1061.45,628.59 L 1062.44,627.79 L 1063.44,627.78 L 1064.43,629.01 L 1065.42,628.31 L 1066.41,628.94 L 1067.41,629.41 L 1068.40,629.40 L 1069.39,628.99 L 1070.39,629.03 L 1071.38,630.19 L 1072.37,629.67 L 1073.37,630.51 L 1074.36,629.87 L 1075.35,630.50 L 1076.34,630.00 L 1077.34,630.05 L 1078.33,630.79 L 1079.32,630.36 L 1080.32,631.36 L 1081.31,631.81 L 1082.30,631.35 L 1083.30,632.21 L 1084.29,632.18 L 1085.28,632.10 L 1086.28,632.03 L 1087.27,632.75 L 1088.26,633.07 L 1089.25,632.27 L 1090.25,633.13 L 1091.24,632.56 L 1092.23,632.85 L 1093.23,633.68 L 1094.22,633.79 L 1095.21,633.92 L 1096.21,633.96 L 1097.20,634.21 L 1098.19,634.43 L 1099.18,634.52 L 1100.18,634.28 L 1101.17,634.94 L 1102.16,635.14 L 1103.16,634.90 L 1104.15,635.58 L 1105.14,635.61 L 1106.14,634.89 L 1107.13,635.54 L 1108.12,635.61 L 1109.11,636.35 L 1110.11,635.95 L 1111.10,635.84 L 1112.09,636.60 L 1113.09,635.96 L 1114.08,636.02 L 1115.07,636.78 L 1116.07,636.16 L 1117.06,636.41 L 1118.05,636.20 L 1119.05,636.63 L 1120.04,636.24 L 1121.03,636.23 L 1122.02,637.11 L 1123.02,637.07 L 1124.01,636.33 L 1125.00,635.97 L 1126.00,636.82 L 1126.99,636.55 L 1127.98,636.36 L 1128.98,636.66 L 1129.97,636.58 L 1130.96,636.60 L 1131.95,636.49 L 1132.95,636.18 L 1133.94,636.49 L 1134.93,636.34 L 1135.93,635.82 L 1136.92,636.64 L 1137.91,635.88 L 1138.91,635.53 L 1139.90,635.86 L 1140.89,635.75 L 1141.88,634.81 L 1142.88,635.22 L 1143.87,634.99 L 1144.86,634.38 L 1145.86,633.74 L 1146.85,634.13 L 1147.84,633.52 L 1148.84,633.15 L 1149.83,632.20 L 1150.82,632.32 L 1151.82,631.47 L 1152.81,631.95 L 1153.80,631.42 L 1154.79,630.72 L 1155.79,630.13 L 1156.78,630.35 L 1157.77,630.32 L 1158.77,630.14 L 1159.76,629.35 L 1160.75,629.46 L 1161.75,628.41 L 1162.74,628.07 L 1163.73,628.54 L 1164.72,628.11 L 1165.72,627.15 L 1166.71,627.02 L 1167.70,626.49 L 1168.70,626.69 L 1169.69,626.59 L 1170.68,626.03 L 1171.68,625.04 L 1172.67,625.28 L 1173.66,624.77 L 1174.65,624.26 L 1175.65,623.82 L 1176.64,623.37 L 1177.63,622.27 L 1178.63,622.67 L 1179.62,622.32 L 1180.61,620.62 L 1181.61,620.11 L 1182.60,619.36 L 1183.59,619.39 L 1184.59,618.11 L 1185.58,617.46 L 1186.57,617.60 L 1187.56,616.25 L 1188.56,615.40 L 1189.55,614.85 L 1190.54,614.24 L 1191.54,613.73 L 1192.53,612.85 L 1193.52,612.16 L 1194.52,611.51 L 1195.51,610.03 L 1196.50,609.53 L 1197.49,608.02 L 1198.49,608.03 L 1199.48,606.05 L 1200.47,605.31 L 1201.47,604.01 L 1202.46,602.98 L 1203.45,601.88 L 1204.45,601.14 L 1205.44,600.66 L 1206.43,598.58 L 1207.42,598.05 L 1208.42,596.65 L 1209.41,594.93 L 1210.40,593.80 L 1211.40,592.61 L 1212.39,590.62 L 1213.38,589.52 L 1214.38,588.19 L 1215.37,586.53 L 1216.36,583.92 L 1217.36,582.43 L 1218.35,580.06 L 1219.34,578.56 L 1220.33,576.74 L 1221.33,574.35 L 1222.32,572.08 L 1223.31,571.02 L 1224.31,568.54 L 1225.30,566.79 L 1226.29,565.49 L 1227.29,564.23 L 1228.28,564.18 L 1229.27,562.64 L 1230.26,561.67 L 1231.26,561.96 L 1232.25,561.03 L 1233.24,560.39 L 1234.24,559.48 L 1235.23,559.04 L 1236.22,558.45 L 1237.22,557.62 L 1238.21,558.14 L 1239.20,557.73 L 1240.19,557.38 L 1241.19,557.18 L 1242.18,557.14 L 1243.17,556.04 L 1244.17,556.35 L 1245.16,557.62 L 1246.15,557.62 L 1247.15,558.47 L 1248.14,559.19 L 1249.13,559.93 L 1250.13,560.40 L 1251.12,561.40 L 1252.11,562.92 L 1253.10,564.65 L 1254.10,566.26 L 1255.09,568.47 L 1256.08,570.06 L 1257.08,572.08 L 1258.07,574.76 L 1259.06,577.40 L 1260.06,579.53 L 1261.05,581.47 L 1262.04,583.42 L 1263.03,585.55 L 1264.03,588.48 L 1265.02,590.47 L 1266.01,593.23 L 1267.01,596.00 L 1268.00,598.60 L 1268.99,600.92 L 1269.99,603.05 L 1270.98,605.67 L 1271.97,607.51 L 1272.96,609.94 L 1273.96,612.34 L 1274.95,614.11 L 1275.94,615.99 L 1276.94,618.76 L 1277.93,620.30 L 1278.92,622.19 L 1279.92,623.44 L 1280.91,625.07 L 1281.90,627.33 L 1282.90,628.18 L 1283.89,629.72 L 1284.88,631.73 L 1285.87,632.80 L 1286.87,634.47 L 1287.86,634.85 L 1288.85,636.18 L 1289.85,637.02 L 1290.84,638.18 L 1291.83,639.34 L 1292.83,640.21 L 1293.82,641.38 L 1294.81,642.93 L 1295.80,643.37 L 1296.80,645.09 L 1297.79,645.92 L 1298.78,646.13 L 1299.78,647.92 L 1300.77,648.72 L 1301.76,649.47 L 1302.76,649.20 L 1303.75,650.59 L 1304.74,651.19 L 1305.73,650.47 L 1306.73,651.44 L 1307.72,648.28 L 1308.71,645.03 L 1309.71,644.71 L 1310.70,646.33 L 1310.70,656.90 Z" fill="#fa9797" stroke="#d87070" stroke-width="0.8"/>
<path d="M 983.00,761.00 L 983.00,761.00 L 983.99,761.00 L 984.99,760.99 L 985.98,760.96 L 986.97,760.88 L 987.97,760.78 L 988.96,760.65 L 989.95,760.49 L 990.94,760.32 L 991.94,760.13 L 992.93,759.93 L 993.92,759.73 L 994.92,759.52 L 995.91,759.31 L 996.90,759.09 L 997.90,758.85 L 998.89,758.58 L 999.88,758.29 L 1000.87,757.88 L 1001.87,757.28 L 1002.86,757.80 L 1003.85,756.57 L 1004.85,756.45 L 1005.84,755.79 L 1006.83,756.05 L 1007.83,754.77 L 1008.82,753.94 L 1009.81,754.25 L 1010.80,753.21 L 1011.80,752.16 L 1012.79,751.07 L 1013.78,750.97 L 1014.78,750.31 L 1015.77,749.54 L 1016.76,748.50 L 1017.76,747.82 L 1018.75,747.77 L 1019.74,747.36 L 1020.74,746.92 L 1021.73,746.58 L 1022.72,746.13 L 1023.71,746.14 L 1024.71,745.30 L 1025.70,744.38 L 1026.69,744.64 L 1027.69,743.85 L 1028.68,744.10 L 1029.67,743.02 L 1030.67,742.45 L 1031.66,742.04 L 1032.65,741.72 L 1033.64,741.27 L 1034.64,740.61 L 1035.63,739.89 L 1036.62,740.36 L 1037.62,740.10 L 1038.61,739.09 L 1039.60,738.67 L 1040.60,738.91 L 1041.59,738.78 L 1042.58,738.27 L 1043.57,738.71 L 1044.57,738.45 L 1045.56,738.38 L 1046.55,737.81 L 1047.55,738.02 L 1048.54,738.04 L 1049.53,737.46 L 1050.53,737.11 L 1051.52,737.83 L 1052.51,737.32 L 1053.51,737.62 L 1054.50,737.07 L 1055.49,737.35 L 1056.48,737.69 L 1057.48,737.72 L 1058.47,737.92 L 1059.46,737.37 L 1060.46,737.47 L 1061.45,737.70 L 1062.44,737.48 L 1063.44,737.52 L 1064.43,737.00 L 1065.42,737.74 L 1066.41,736.80 L 1067.41,737.44 L 1068.40,737.37 L 1069.39,737.60 L 1070.39,737.27 L 1071.38,737.38 L 1072.37,737.79 L 1073.37,737.98 L 1074.36,737.82 L 1075.35,737.77 L 1076.34,738.41 L 1077.34,738.14 L 1078.33,737.98 L 1079.32,738.65 L 1080.32,739.01 L 1081.31,739.09 L 1082.30,738.61 L 1083.30,738.73 L 1084.29,738.49 L 1085.28,738.69 L 1086.28,739.47 L 1087.27,739.61 L 1088.26,739.61 L 1089.25,739.77 L 1090.25,739.24 L 1091.24,739.14 L 1092.23,739.17 L 1093.23,739.99 L 1094.22,739.35 L 1095.21,740.06 L 1096.21,740.01 L 1097.20,739.72 L 1098.19,740.53 L 1099.18,740.59 L 1100.18,739.80 L 1101.17,740.49 L 1102.16,740.47 L 1103.16,740.28 L 1104.15,740.24 L 1105.14,741.08 L 1106.14,740.77 L 1107.13,740.73 L 1108.12,740.73 L 1109.11,741.10 L 1110.11,740.72 L 1111.10,740.32 L 1112.09,741.00 L 1113.09,740.82 L 1114.08,741.30 L 1115.07,741.09 L 1116.07,740.60 L 1117.06,741.19 L 1118.05,740.23 L 1119.05,740.13 L 1120.04,740.97 L 1121.03,739.90 L 1122.02,740.45 L 1123.02,739.87 L 1124.01,739.76 L 1125.00,740.16 L 1126.00,739.57 L 1126.99,739.45 L 1127.98,739.12 L 1128.98,739.58 L 1129.97,738.85 L 1130.96,738.44 L 1131.95,738.60 L 1132.95,738.58 L 1133.94,738.89 L 1134.93,738.27 L 1135.93,738.25 L 1136.92,737.64 L 1137.91,737.51 L 1138.91,737.45 L 1139.90,737.69 L 1140.89,736.93 L 1141.88,736.71 L 1142.88,736.99 L 1143.87,735.90 L 1144.86,735.89 L 1145.86,736.22 L 1146.85,734.97 L 1147.84,735.56 L 1148.84,735.01 L 1149.83,734.21 L 1150.82,733.99 L 1151.82,733.66 L 1152.81,733.16 L 1153.80,732.97 L 1154.79,732.72 L 1155.79,732.44 L 1156.78,732.07 L 1157.77,730.79 L 1158.77,730.16 L 1159.76,729.79 L 1160.75,728.90 L 1161.75,728.65 L 1162.74,728.04 L 1163.73,727.16 L 1164.72,725.82 L 1165.72,725.99 L 1166.71,724.65 L 1167.70,724.12 L 1168.70,722.68 L 1169.69,722.32 L 1170.68,721.49 L 1171.68,720.56 L 1172.67,719.55 L 1173.66,718.44 L 1174.65,718.08 L 1175.65,716.68 L 1176.64,716.71 L 1177.63,715.71 L 1178.63,715.07 L 1179.62,714.21 L 1180.61,712.59 L 1181.61,711.78 L 1182.60,711.54 L 1183.59,710.65 L 1184.59,709.50 L 1185.58,708.22 L 1186.57,707.23 L 1187.56,706.40 L 1188.56,705.67 L 1189.55,705.26 L 1190.54,704.04 L 1191.54,703.35 L 1192.53,702.03 L 1193.52,701.05 L 1194.52,700.53 L 1195.51,699.54 L 1196.50,697.98 L 1197.49,697.91 L 1198.49,696.06 L 1199.48,694.97 L 1200.47,693.90 L 1201.47,693.53 L 1202.46,692.29 L 1203.45,691.21 L 1204.45,690.09 L 1205.44,688.63 L 1206.43,687.90 L 1207.42,687.29 L 1208.42,685.59 L 1209.41,684.98 L 1210.40,683.81 L 1211.40,682.65 L 1212.39,682.49 L 1213.38,680.63 L 1214.38,679.81 L 1215.37,679.10 L 1216.36,678.18 L 1217.36,677.41 L 1218.35,676.92 L 1219.34,675.76 L 1220.33,675.56 L 1221.33,674.26 L 1222.32,673.34 L 1223.31,672.83 L 1224.31,671.96 L 1225.30,670.80 L 1226.29,670.19 L 1227.29,670.41 L 1228.28,669.03 L 1229.27,668.64 L 1230.26,668.75 L 1231.26,667.89 L 1232.25,667.58 L 1233.24,667.35 L 1234.24,666.44 L 1235.23,665.60 L 1236.22,665.93 L 1237.22,664.95 L 1238.21,664.86 L 1239.20,665.29 L 1240.19,664.32 L 1241.19,664.59 L 1242.18,664.35 L 1243.17,664.89 L 1244.17,665.29 L 1245.16,666.28 L 1246.15,666.38 L 1247.15,666.94 L 1248.14,667.78 L 1249.13,669.05 L 1250.13,669.48 L 1251.12,670.63 L 1252.11,672.06 L 1253.10,673.29 L 1254.10,674.54 L 1255.09,675.79 L 1256.08,677.33 L 1257.08,678.50 L 1258.07,679.89 L 1259.06,681.73 L 1260.06,683.52 L 1261.05,684.92 L 1262.04,687.06 L 1263.03,688.73 L 1264.03,690.34 L 1265.02,692.78 L 1266.01,695.12 L 1267.01,696.40 L 1268.00,698.73 L 1268.99,701.25 L 1269.99,703.33 L 1270.98,705.18 L 1271.97,707.09 L 1272.96,709.53 L 1273.96,711.82 L 1274.95,713.62 L 1275.94,714.99 L 1276.94,717.75 L 1277.93,719.36 L 1278.92,721.60 L 1279.92,723.46 L 1280.91,725.30 L 1281.90,726.74 L 1282.90,728.64 L 1283.89,730.43 L 1284.88,731.95 L 1285.87,733.47 L 1286.87,734.64 L 1287.86,736.62 L 1288.85,738.07 L 1289.85,738.89 L 1290.84,740.14 L 1291.83,740.88 L 1292.83,742.59 L 1293.82,743.10 L 1294.81,744.03 L 1295.80,745.36 L 1296.80,745.14 L 1297.79,746.78 L 1298.78,747.61 L 1299.78,747.71 L 1300.77,748.46 L 1301.76,748.13 L 1302.76,747.83 L 1303.75,744.62 L 1304.74,739.60 L 1305.73,733.61 L 1306.73,730.40 L 1307.72,728.94 L 1308.71,730.27 L 1309.71,731.93 L 1310.70,736.19 L 1310.70,761.00 Z" fill="#9a9a9a" stroke="#707070" stroke-width="0.8"/>
<path d="M 983.00,869.30 L 983.00,869.30 L 983.99,869.30 L 984.99,869.30 L 985.98,869.30 L 986.97,869.30 L 987.97,869.30 L 988.96,869.30 L 989.95,869.30 L 990.94,869.30 L 991.94,869.30 L 992.93,869.30 L 993.92,869.30 L 994.92,869.30 L 995.91,869.30 L 996.90,869.30 L 997.90,869.30 L 998.89,869.26 L 999.88,868.97 L 1000.87,868.44 L 1001.87,867.71 L 1002.86,866.82 L 1003.85,865.97 L 1004.85,864.91 L 1005.84,863.52 L 1006.83,862.59 L 1007.83,861.67 L 1008.82,860.64 L 1009.81,859.02 L 1010.80,857.47 L 1011.80,856.22 L 1012.79,855.00 L 1013.78,853.30 L 1014.78,851.47 L 1015.77,849.53 L 1016.76,847.59 L 1017.76,845.43 L 1018.75,842.53 L 1019.74,839.43 L 1020.74,836.58 L 1021.73,832.58 L 1022.72,829.17 L 1023.71,825.16 L 1024.71,821.24 L 1025.70,817.43 L 1026.69,814.29 L 1027.69,810.64 L 1028.68,807.07 L 1029.67,803.31 L 1030.67,800.18 L 1031.66,796.43 L 1032.65,792.59 L 1033.64,789.74 L 1034.64,786.59 L 1035.63,784.05 L 1036.62,781.77 L 1037.62,779.70 L 1038.61,778.26 L 1039.60,776.09 L 1040.60,774.38 L 1041.59,772.78 L 1042.58,771.63 L 1043.57,770.36 L 1044.57,769.97 L 1045.56,769.58 L 1046.55,769.74 L 1047.55,769.81 L 1048.54,770.69 L 1049.53,771.77 L 1050.53,773.00 L 1051.52,774.00 L 1052.51,775.52 L 1053.51,776.98 L 1054.50,778.72 L 1055.49,780.19 L 1056.48,782.07 L 1057.48,783.69 L 1058.47,786.29 L 1059.46,788.40 L 1060.46,790.76 L 1061.45,793.44 L 1062.44,796.49 L 1063.44,799.14 L 1064.43,801.49 L 1065.42,804.27 L 1066.41,806.73 L 1067.41,809.44 L 1068.40,812.51 L 1069.39,815.14 L 1070.39,818.16 L 1071.38,821.32 L 1072.37,824.19 L 1073.37,827.17 L 1074.36,829.67 L 1075.35,831.89 L 1076.34,834.76 L 1077.34,836.68 L 1078.33,839.13 L 1079.32,841.30 L 1080.32,843.06 L 1081.31,845.34 L 1082.30,847.39 L 1083.30,849.15 L 1084.29,850.52 L 1085.28,852.05 L 1086.28,853.70 L 1087.27,854.65 L 1088.26,855.16 L 1089.25,856.53 L 1090.25,857.20 L 1091.24,858.13 L 1092.23,858.70 L 1093.23,859.56 L 1094.22,860.15 L 1095.21,860.95 L 1096.21,861.77 L 1097.20,862.33 L 1098.19,862.88 L 1099.18,862.88 L 1100.18,863.70 L 1101.17,864.08 L 1102.16,863.78 L 1103.16,864.49 L 1104.15,864.31 L 1105.14,865.01 L 1106.14,865.00 L 1107.13,865.35 L 1108.12,865.18 L 1109.11,865.49 L 1110.11,865.65 L 1111.10,865.75 L 1112.09,865.84 L 1113.09,866.30 L 1114.08,866.35 L 1115.07,866.47 L 1116.07,866.59 L 1117.06,866.71 L 1118.05,866.81 L 1119.05,866.90 L 1120.04,866.99 L 1121.03,867.06 L 1122.02,867.13 L 1123.02,867.19 L 1124.01,867.24 L 1125.00,867.30 L 1126.00,867.34 L 1126.99,867.39 L 1127.98,867.43 L 1128.98,867.47 L 1129.97,867.51 L 1130.96,867.55 L 1131.95,867.59 L 1132.95,867.62 L 1133.94,867.65 L 1134.93,867.69 L 1135.93,867.72 L 1136.92,867.74 L 1137.91,867.77 L 1138.91,867.80 L 1139.90,867.82 L 1140.89,867.85 L 1141.88,867.87 L 1142.88,867.90 L 1143.87,867.92 L 1144.86,867.95 L 1145.86,867.97 L 1146.85,867.99 L 1147.84,868.02 L 1148.84,868.04 L 1149.83,868.07 L 1150.82,868.09 L 1151.82,868.12 L 1152.81,868.14 L 1153.80,868.17 L 1154.79,868.20 L 1155.79,868.22 L 1156.78,868.25 L 1157.77,868.28 L 1158.77,868.31 L 1159.76,868.35 L 1160.75,868.38 L 1161.75,868.41 L 1162.74,868.45 L 1163.73,868.48 L 1164.72,868.51 L 1165.72,868.55 L 1166.71,868.58 L 1167.70,868.62 L 1168.70,868.65 L 1169.69,868.68 L 1170.68,868.72 L 1171.68,868.75 L 1172.67,868.79 L 1173.66,868.82 L 1174.65,868.85 L 1175.65,868.88 L 1176.64,868.92 L 1177.63,868.95 L 1178.63,868.98 L 1179.62,869.01 L 1180.61,869.04 L 1181.61,869.06 L 1182.60,869.09 L 1183.59,869.11 L 1184.59,869.14 L 1185.58,869.16 L 1186.57,869.18 L 1187.56,869.20 L 1188.56,869.22 L 1189.55,869.24 L 1190.54,869.25 L 1191.54,869.26 L 1192.53,869.27 L 1193.52,869.28 L 1194.52,869.29 L 1195.51,869.30 L 1196.50,869.30 L 1197.49,869.30 L 1198.49,869.30 L 1199.48,869.30 L 1200.47,869.30 L 1201.47,869.30 L 1202.46,869.30 L 1203.45,869.30 L 1204.45,869.30 L 1205.44,869.30 L 1206.43,869.30 L 1207.42,869.30 L 1208.42,869.30 L 1209.41,869.30 L 1210.40,869.30 L 1211.40,869.30 L 1212.39,869.30 L 1213.38,869.30 L 1214.38,869.30 L 1215.37,869.30 L 1216.36,869.30 L 1217.36,869.30 L 1218.35,869.30 L 1219.34,869.30 L 1220.33,869.30 L 1221.33,869.30 L 1222.32,869.30 L 1223.31,869.30 L 1224.31,869.30 L 1225.30,869.30 L 1226.29,869.30 L 1227.29,869.30 L 1228.28,869.30 L 1229.27,869.30 L 1230.26,869.30 L 1231.26,869.30 L 1232.25,869.30 L 1233.24,869.30 L 1234.24,869.30 L 1235.23,869.30 L 1236.22,869.30 L 1237.22,869.30 L 1238.21,869.30 L 1239.20,869.30 L 1240.19,869.30 L 1241.19,869.30 L 1242.18,869.30 L 1243.17,869.30 L 1244.17,869.30 L 1245.16,869.30 L 1246.15,869.30 L 1247.15,869.30 L 1248.14,869.30 L 1249.13,869.30 L 1250.13,869.30 L 1251.12,869.30 L 1252.11,869.30 L 1253.10,869.30 L 1254.10,869.30 L 1255.09,869.30 L 1256.08,869.30 L 1257.08,869.30 L 1258.07,869.30 L 1259.06,869.30 L 1260.06,869.30 L 1261.05,869.30 L 1262.04,869.30 L 1263.03,869.30 L 1264.03,869.30 L 1265.02,869.30 L 1266.01,869.30 L 1267.01,869.30 L 1268.00,869.30 L 1268.99,869.30 L 1269.99,869.30 L 1270.98,869.30 L 1271.97,869.30 L 1272.96,869.30 L 1273.96,869.30 L 1274.95,869.30 L 1275.94,869.30 L 1276.94,869.30 L 1277.93,869.30 L 1278.92,869.30 L 1279.92,869.30 L 1280.91,869.30 L 1281.90,869.30 L 1282.90,869.30 L 1283.89,869.30 L 1284.88,869.30 L 1285.87,869.30 L 1286.87,869.30 L 1287.86,869.30 L 1288.85,869.30 L 1289.85,869.30 L 1290.84,869.30 L 1291.83,869.30 L 1292.83,869.30 L 1293.82,869.30 L 1294.81,869.30 L 1295.80,869.30 L 1296.80,869.30 L 1297.79,869.30 L 1298.78,869.30 L 1299.78,869.30 L 1300.77,869.30 L 1301.76,869.30 L 1302.76,869.30 L 1303.75,869.30 L 1304.74,869.30 L 1305.73,869.30 L 1306.73,869.30 L 1307.72,869.30 L 1308.71,869.30 L 1309.71,869.30 L 1310.70,869.30 L 1310.70,869.30 Z" fill="#d0d0d0" stroke="#c8c8c8" stroke-width="0.8"/>
<rect x="982.40" y="550.00" width="328.60" height="320.30" fill="none" stroke="#000" stroke-width="1.6"/>
<line x1="982.40" y1="657.50" x2="1311.00" y2="657.50" stroke="#222" stroke-width="1.2" stroke-linecap="butt"/>
<line x1="982.40" y1="761.60" x2="1311.00" y2="761.60" stroke="#222" stroke-width="1.2" stroke-linecap="butt"/>
<line x1="1000.87" y1="870.30" x2="1000.87" y2="878.80" stroke="#000" stroke-width="2.0" stroke-linecap="butt"/>
<line x1="1159.09" y1="870.30" x2="1159.09" y2="878.80" stroke="#000" stroke-width="2.0" stroke-linecap="butt"/>
<line x1="1239.86" y1="870.30" x2="1239.86" y2="878.80" stroke="#000" stroke-width="2.0" stroke-linecap="butt"/>
<line x1="1308.32" y1="870.30" x2="1308.32" y2="878.80" stroke="#000" stroke-width="2.0" stroke-linecap="butt"/>
<line x1="1007.13" y1="870.30" x2="1007.13" y2="874.80" stroke="#000" stroke-width="1.5" stroke-linecap="butt"/>
<line x1="1012.35" y1="870.30" x2="1012.35" y2="874.80" stroke="#000" stroke-width="1.5" stroke-linecap="butt"/>
<line x1="1018.61" y1="870.30" x2="1018.61" y2="874.80" stroke="#000" stroke-width="1.5" stroke-linecap="butt"/>
<line x1="1023.83" y1="870.30" x2="1023.83" y2="874.80" stroke="#000" stroke-width="1.5" stroke-linecap="butt"/>
<line x1="1030.09" y1="870.30" x2="1030.09" y2="874.80" stroke="#000" stroke-width="1.5" stroke-linecap="butt"/>
<line x1="1035.31" y1="870.30" x2="1035.31" y2="874.80" stroke="#000" stroke-width="1.5" stroke-linecap="butt"/>
<line x1="1040.53" y1="870.30" x2="1040.53" y2="874.80" stroke="#000" stroke-width="1.5" stroke-linecap="butt"/>
<line x1="1046.79" y1="870.30" x2="1046.79" y2="874.80" stroke="#000" stroke-width="1.5" stroke-linecap="butt"/>
<line x1="1052.01" y1="870.30" x2="1052.01" y2="874.80" stroke="#000" stroke-width="1.5" stroke-linecap="butt"/>
<line x1="1058.27" y1="870.30" x2="1058.27" y2="874.80" stroke="#000" stroke-width="1.5" stroke-linecap="butt"/>
<line x1="1101.06" y1="870.30" x2="1101.06" y2="874.80" stroke="#000" stroke-width="1.5" stroke-linecap="butt"/>
<line x1="1107.32" y1="870.30" x2="1107.32" y2="874.80" stroke="#000" stroke-width="1.5" stroke-linecap="butt"/>
<line x1="1113.58" y1="870.30" x2="1113.58" y2="874.80" stroke="#000" stroke-width="1.5" stroke-linecap="butt"/>
<line x1="1121.93" y1="870.30" x2="1121.93" y2="874.80" stroke="#000" stroke-width="1.5" stroke-linecap="butt"/>
<line x1="1130.28" y1="870.30" x2="1130.28" y2="874.80" stroke="#000" stroke-width="1.5" stroke-linecap="butt"/>
<line x1="1138.63" y1="870.30" x2="1138.63" y2="874.80" stroke="#000" stroke-width="1.5" stroke-linecap="butt"/>
<line x1="1144.89" y1="870.30" x2="1144.89" y2="874.80" stroke="#000" stroke-width="1.5" stroke-linecap="butt"/>
<line x1="1149.07" y1="870.30" x2="1149.07" y2="874.80" stroke="#000" stroke-width="1.5" stroke-linecap="butt"/>
<line x1="1154.29" y1="870.30" x2="1154.29" y2="874.80" stroke="#000" stroke-width="1.5" stroke-linecap="butt"/>
<line x1="1186.64" y1="870.30" x2="1186.64" y2="874.80" stroke="#000" stroke-width="1.5" stroke-linecap="butt"/>
<line x1="1202.29" y1="870.30" x2="1202.29" y2="874.80" stroke="#000" stroke-width="1.5" stroke-linecap="butt"/>
<line x1="1211.68" y1="870.30" x2="1211.68" y2="874.80" stroke="#000" stroke-width="1.5" stroke-linecap="butt"/>
<line x1="1218.99" y1="870.30" x2="1218.99" y2="874.80" stroke="#000" stroke-width="1.5" stroke-linecap="butt"/>
<line x1="1224.21" y1="870.30" x2="1224.21" y2="874.80" stroke="#000" stroke-width="1.5" stroke-linecap="butt"/>
<line x1="1228.38" y1="870.30" x2="1228.38" y2="874.80" stroke="#000" stroke-width="1.5" stroke-linecap="butt"/>
<line x1="1232.56" y1="870.30" x2="1232.56" y2="874.80" stroke="#000" stroke-width="1.5" stroke-linecap="butt"/>
<line x1="1235.69" y1="870.30" x2="1235.69" y2="874.80" stroke="#000" stroke-width="1.5" stroke-linecap="butt"/>
<line x1="1260.73" y1="870.30" x2="1260.73" y2="874.80" stroke="#000" stroke-width="1.5" stroke-linecap="butt"/>
<line x1="1273.26" y1="870.30" x2="1273.26" y2="874.80" stroke="#000" stroke-width="1.5" stroke-linecap="butt"/>
<line x1="1280.56" y1="870.30" x2="1280.56" y2="874.80" stroke="#000" stroke-width="1.5" stroke-linecap="butt"/>
<line x1="1286.83" y1="870.30" x2="1286.83" y2="874.80" stroke="#000" stroke-width="1.5" stroke-linecap="butt"/>
<line x1="1291.00" y1="870.30" x2="1291.00" y2="874.80" stroke="#000" stroke-width="1.5" stroke-linecap="butt"/>
<line x1="1295.17" y1="870.30" x2="1295.17" y2="874.80" stroke="#000" stroke-width="1.5" stroke-linecap="butt"/>
<line x1="1299.35" y1="870.30" x2="1299.35" y2="874.80" stroke="#000" stroke-width="1.5" stroke-linecap="butt"/>
<line x1="1303.52" y1="870.30" x2="1303.52" y2="874.80" stroke="#000" stroke-width="1.5" stroke-linecap="butt"/>
<rect x="1068.71" y="870.30" width="22.96" height="3.20" fill="#000"/>
<line x1="1068.71" y1="870.30" x2="1068.71" y2="877.80" stroke="#000" stroke-width="1.5" stroke-linecap="butt"/>
<line x1="1071.84" y1="870.30" x2="1071.84" y2="877.80" stroke="#000" stroke-width="1.5" stroke-linecap="butt"/>
<line x1="1074.97" y1="870.30" x2="1074.97" y2="877.80" stroke="#000" stroke-width="1.5" stroke-linecap="butt"/>
<line x1="1078.10" y1="870.30" x2="1078.10" y2="877.80" stroke="#000" stroke-width="1.5" stroke-linecap="butt"/>
<line x1="1081.23" y1="870.30" x2="1081.23" y2="877.80" stroke="#000" stroke-width="1.5" stroke-linecap="butt"/>
<line x1="1084.36" y1="870.30" x2="1084.36" y2="877.80" stroke="#000" stroke-width="1.5" stroke-linecap="butt"/>
<line x1="1087.49" y1="870.30" x2="1087.49" y2="877.80" stroke="#000" stroke-width="1.5" stroke-linecap="butt"/>
<line x1="1091.67" y1="870.30" x2="1091.67" y2="877.80" stroke="#000" stroke-width="1.5" stroke-linecap="butt"/>
<text x="997.00" y="901.70" font-size="13.2">-10<tspan font-size="13.2" dx="0.8" dy="-10.4">4</tspan></text>
<text x="1085.40" y="901.70" font-size="13.2" text-anchor="middle">0</text>
<text x="1157.60" y="901.70" font-size="13.2">10<tspan font-size="13.2" dx="0.8" dy="-10.4">4</tspan></text>
<text x="1237.90" y="901.70" font-size="13.2">10<tspan font-size="13.2" dx="0.8" dy="-10.4">5</tspan></text>
<text x="1285.90" y="901.70" font-size="13.2">10<tspan font-size="13.2" dx="0.8" dy="-10.4">6</tspan></text>
<text x="1152.70" y="935.10" font-size="27.0" text-anchor="middle">HER2 CAR (PE/Cy7)</text>
<rect x="1503.00" y="700.00" width="40.00" height="0.00" fill="#808080"/>
<rect x="1562.40" y="545.09" width="40.40" height="154.91" fill="#fe7f7f"/>
<line x1="1480.80" y1="486.80" x2="1480.80" y2="701.05" stroke="#000" stroke-width="2.1" stroke-linecap="butt"/>
<line x1="1472.30" y1="700.00" x2="1624.00" y2="700.00" stroke="#000" stroke-width="2.1" stroke-linecap="butt"/>
<line x1="1472.30" y1="700.00" x2="1480.80" y2="700.00" stroke="#000" stroke-width="2.1" stroke-linecap="butt"/>
<text x="1469.10" y="709.00" font-size="25.7" text-anchor="end">0</text>
<line x1="1472.30" y1="646.95" x2="1480.80" y2="646.95" stroke="#000" stroke-width="2.1" stroke-linecap="butt"/>
<text x="1469.10" y="655.95" font-size="25.7" text-anchor="end">50</text>
<line x1="1472.30" y1="593.90" x2="1480.80" y2="593.90" stroke="#000" stroke-width="2.1" stroke-linecap="butt"/>
<text x="1469.10" y="602.89" font-size="25.7" text-anchor="end">100</text>
<line x1="1472.30" y1="540.85" x2="1480.80" y2="540.85" stroke="#000" stroke-width="2.1" stroke-linecap="butt"/>
<text x="1469.10" y="549.85" font-size="25.7" text-anchor="end">150</text>
<line x1="1472.30" y1="487.80" x2="1480.80" y2="487.80" stroke="#000" stroke-width="2.1" stroke-linecap="butt"/>
<text x="1469.10" y="496.80" font-size="25.7" text-anchor="end">200</text>
<line x1="1523.00" y1="700.00" x2="1523.00" y2="708.50" stroke="#000" stroke-width="2.1" stroke-linecap="butt"/>
<line x1="1582.50" y1="700.00" x2="1582.50" y2="708.50" stroke="#000" stroke-width="2.1" stroke-linecap="butt"/>
<circle cx="1507.50" cy="700.00" r="4.75" fill="#fff" stroke="#000" stroke-width="1.75"/>
<circle cx="1522.50" cy="700.00" r="4.75" fill="#fff" stroke="#000" stroke-width="1.75"/>
<circle cx="1537.50" cy="700.00" r="4.75" fill="#fff" stroke="#000" stroke-width="1.75"/>
<polygon points="1568.00,543.40 1573.10,553.30 1562.90,553.30" fill="#fff" stroke="#000" stroke-width="1.9" stroke-linejoin="round"/>
<polygon points="1582.50,541.28 1587.60,551.18 1577.40,551.18" fill="#fff" stroke="#000" stroke-width="1.9" stroke-linejoin="round"/>
<polygon points="1598.00,543.40 1603.10,553.30 1592.90,553.30" fill="#fff" stroke="#000" stroke-width="1.9" stroke-linejoin="round"/>
<polyline points="1522.50,687.00 1522.50,518.50 1582.50,518.50 1582.50,530.00" fill="none" stroke="#000" stroke-width="2.0" stroke-linejoin="miter"/>
<text x="1552.00" y="504.40" font-size="25.6" text-anchor="middle"><tspan font-style="italic">P</tspan> &lt; 0.0001</text>
<text transform="translate(1405.00,588.20) rotate(-90)" font-size="26.6" text-anchor="middle">IL-10 ng/ml</text>
<text transform="translate(1531.00,731.00) rotate(-45)" font-size="26.6" text-anchor="end">HER2 CAR-T</text>
<text transform="translate(1591.00,731.00) rotate(-45)" font-size="26.6" text-anchor="end">IL-10 HER2 CAR-T</text>
<text transform="translate(1350.00,443.30) scale(1.1,1)" font-size="34" font-weight="bold" style="stroke-width:1.5px">g</text>
<rect x="173.10" y="1078.16" width="36.80" height="142.64" fill="#808080"/>
<rect x="228.30" y="1088.71" width="37.40" height="132.09" fill="#fe7f7f"/>
<line x1="191.50" y1="1078.16" x2="191.50" y2="1071.51" stroke="#6e6e6e" stroke-width="1.6" stroke-linecap="butt"/>
<line x1="184.50" y1="1071.51" x2="198.50" y2="1071.51" stroke="#6e6e6e" stroke-width="1.6" stroke-linecap="butt"/>
<line x1="247.00" y1="1088.71" x2="247.00" y2="1080.11" stroke="#e07278" stroke-width="1.6" stroke-linecap="butt"/>
<line x1="240.00" y1="1080.11" x2="254.00" y2="1080.11" stroke="#e07278" stroke-width="1.6" stroke-linecap="butt"/>
<line x1="154.20" y1="1024.40" x2="154.20" y2="1221.85" stroke="#000" stroke-width="2.1" stroke-linecap="butt"/>
<line x1="145.70" y1="1220.80" x2="284.80" y2="1220.80" stroke="#000" stroke-width="2.1" stroke-linecap="butt"/>
<line x1="145.70" y1="1220.80" x2="154.20" y2="1220.80" stroke="#000" stroke-width="2.1" stroke-linecap="butt"/>
<text x="142.50" y="1229.48" font-size="24.8" text-anchor="end">0</text>
<line x1="145.70" y1="1181.72" x2="154.20" y2="1181.72" stroke="#000" stroke-width="2.1" stroke-linecap="butt"/>
<text x="142.50" y="1189.41" font-size="24.8" text-anchor="end">1×10<tspan font-size="16.864" dx="2.2319999999999998" dy="-6.944000000000001">3</tspan></text>
<line x1="145.70" y1="1142.64" x2="154.20" y2="1142.64" stroke="#000" stroke-width="2.1" stroke-linecap="butt"/>
<text x="142.50" y="1150.33" font-size="24.8" text-anchor="end">2×10<tspan font-size="16.864" dx="2.2319999999999998" dy="-6.944000000000001">3</tspan></text>
<line x1="145.70" y1="1103.56" x2="154.20" y2="1103.56" stroke="#000" stroke-width="2.1" stroke-linecap="butt"/>
<text x="142.50" y="1111.25" font-size="24.8" text-anchor="end">3×10<tspan font-size="16.864" dx="2.2319999999999998" dy="-6.944000000000001">3</tspan></text>
<line x1="145.70" y1="1064.48" x2="154.20" y2="1064.48" stroke="#000" stroke-width="2.1" stroke-linecap="butt"/>
<text x="142.50" y="1072.17" font-size="24.8" text-anchor="end">4×10<tspan font-size="16.864" dx="2.2319999999999998" dy="-6.944000000000001">3</tspan></text>
<line x1="145.70" y1="1025.40" x2="154.20" y2="1025.40" stroke="#000" stroke-width="2.1" stroke-linecap="butt"/>
<text x="142.50" y="1033.09" font-size="24.8" text-anchor="end">5×10<tspan font-size="16.864" dx="2.2319999999999998" dy="-6.944000000000001">3</tspan></text>
<line x1="190.50" y1="1220.80" x2="190.50" y2="1229.30" stroke="#000" stroke-width="2.1" stroke-linecap="butt"/>
<line x1="247.00" y1="1220.80" x2="247.00" y2="1229.30" stroke="#000" stroke-width="2.1" stroke-linecap="butt"/>
<circle cx="178.00" cy="1069.56" r="4.75" fill="#fff" stroke="#000" stroke-width="1.75"/>
<circle cx="185.00" cy="1055.88" r="4.75" fill="#fff" stroke="#000" stroke-width="1.75"/>
<circle cx="192.00" cy="1066.04" r="4.75" fill="#fff" stroke="#000" stroke-width="1.75"/>
<circle cx="199.00" cy="1049.63" r="4.75" fill="#fff" stroke="#000" stroke-width="1.75"/>
<circle cx="205.00" cy="1068.39" r="4.75" fill="#fff" stroke="#000" stroke-width="1.75"/>
<circle cx="205.00" cy="1079.33" r="4.75" fill="#fff" stroke="#000" stroke-width="1.75"/>
<circle cx="178.00" cy="1091.05" r="4.75" fill="#fff" stroke="#000" stroke-width="1.75"/>
<circle cx="192.00" cy="1094.57" r="4.75" fill="#fff" stroke="#000" stroke-width="1.75"/>
<circle cx="205.00" cy="1101.22" r="4.75" fill="#fff" stroke="#000" stroke-width="1.75"/>
<circle cx="178.00" cy="1108.25" r="4.75" fill="#fff" stroke="#000" stroke-width="1.75"/>
<polygon points="247.00,1035.09 252.10,1044.99 241.90,1044.99" fill="#fff" stroke="#000" stroke-width="1.9" stroke-linejoin="round"/>
<polygon points="241.00,1050.72 246.10,1060.62 235.90,1060.62" fill="#fff" stroke="#000" stroke-width="1.9" stroke-linejoin="round"/>
<polygon points="252.00,1049.55 257.10,1059.45 246.90,1059.45" fill="#fff" stroke="#000" stroke-width="1.9" stroke-linejoin="round"/>
<polygon points="233.00,1095.67 238.10,1105.57 227.90,1105.57" fill="#fff" stroke="#000" stroke-width="1.9" stroke-linejoin="round"/>
<polygon points="251.00,1094.88 256.10,1104.78 245.90,1104.78" fill="#fff" stroke="#000" stroke-width="1.9" stroke-linejoin="round"/>
<polygon points="260.00,1087.85 265.10,1097.75 254.90,1097.75" fill="#fff" stroke="#000" stroke-width="1.9" stroke-linejoin="round"/>
<polygon points="242.00,1104.26 247.10,1114.16 236.90,1114.16" fill="#fff" stroke="#000" stroke-width="1.9" stroke-linejoin="round"/>
<polygon points="233.00,1108.56 238.10,1118.46 227.90,1118.46" fill="#fff" stroke="#000" stroke-width="1.9" stroke-linejoin="round"/>
<polygon points="251.00,1107.78 256.10,1117.68 245.90,1117.68" fill="#fff" stroke="#000" stroke-width="1.9" stroke-linejoin="round"/>
<polygon points="260.00,1107.39 265.10,1117.29 254.90,1117.29" fill="#fff" stroke="#000" stroke-width="1.9" stroke-linejoin="round"/>
<polyline points="192.00,1039.30 192.00,1016.60 247.20,1016.60 247.20,1027.60" fill="none" stroke="#000" stroke-width="2.0" stroke-linejoin="miter"/>
<text x="219.30" y="1005.30" font-size="24.8" text-anchor="middle"><tspan font-style="italic">P</tspan> = 0.3411</text>
<text transform="translate(64.30,1117.60) rotate(-90)" font-size="24.8" text-anchor="middle">CD44 MFI</text>
<text transform="translate(199.00,1249.50) rotate(-45)" font-size="24.7" text-anchor="end">HER2 CAR-T</text>
<text transform="translate(255.50,1249.50) rotate(-45)" font-size="24.7" text-anchor="end">IL-10 HER2 CAR-T</text>
<text transform="translate(11.80,991.70) scale(1.1,1)" font-size="34" font-weight="bold" style="stroke-width:1.5px">h</text>
<rect x="462.00" y="1100.28" width="36.90" height="121.02" fill="#808080"/>
<rect x="517.30" y="1084.66" width="36.80" height="136.64" fill="#fe7f7f"/>
<line x1="480.45" y1="1100.28" x2="480.45" y2="1095.59" stroke="#6e6e6e" stroke-width="1.6" stroke-linecap="butt"/>
<line x1="473.45" y1="1095.59" x2="487.45" y2="1095.59" stroke="#6e6e6e" stroke-width="1.6" stroke-linecap="butt"/>
<line x1="442.90" y1="1025.10" x2="442.90" y2="1222.35" stroke="#000" stroke-width="2.1" stroke-linecap="butt"/>
<line x1="434.40" y1="1221.30" x2="573.80" y2="1221.30" stroke="#000" stroke-width="2.1" stroke-linecap="butt"/>
<line x1="434.40" y1="1221.30" x2="442.90" y2="1221.30" stroke="#000" stroke-width="2.1" stroke-linecap="butt"/>
<text x="431.20" y="1229.98" font-size="24.8" text-anchor="end">0</text>
<line x1="434.40" y1="1182.26" x2="442.90" y2="1182.26" stroke="#000" stroke-width="2.1" stroke-linecap="butt"/>
<text x="431.20" y="1189.95" font-size="24.8" text-anchor="end">1×10<tspan font-size="16.864" dx="2.2319999999999998" dy="-6.944000000000001">3</tspan></text>
<line x1="434.40" y1="1143.22" x2="442.90" y2="1143.22" stroke="#000" stroke-width="2.1" stroke-linecap="butt"/>
<text x="431.20" y="1150.91" font-size="24.8" text-anchor="end">2×10<tspan font-size="16.864" dx="2.2319999999999998" dy="-6.944000000000001">3</tspan></text>
<line x1="434.40" y1="1104.18" x2="442.90" y2="1104.18" stroke="#000" stroke-width="2.1" stroke-linecap="butt"/>
<text x="431.20" y="1111.87" font-size="24.8" text-anchor="end">3×10<tspan font-size="16.864" dx="2.2319999999999998" dy="-6.944000000000001">3</tspan></text>
<line x1="434.40" y1="1065.14" x2="442.90" y2="1065.14" stroke="#000" stroke-width="2.1" stroke-linecap="butt"/>
<text x="431.20" y="1072.83" font-size="24.8" text-anchor="end">4×10<tspan font-size="16.864" dx="2.2319999999999998" dy="-6.944000000000001">3</tspan></text>
<line x1="434.40" y1="1026.10" x2="442.90" y2="1026.10" stroke="#000" stroke-width="2.1" stroke-linecap="butt"/>
<text x="431.20" y="1033.79" font-size="24.8" text-anchor="end">5×10<tspan font-size="16.864" dx="2.2319999999999998" dy="-6.944000000000001">3</tspan></text>
<line x1="480.50" y1="1221.30" x2="480.50" y2="1229.80" stroke="#000" stroke-width="2.1" stroke-linecap="butt"/>
<line x1="536.20" y1="1221.30" x2="536.20" y2="1229.80" stroke="#000" stroke-width="2.1" stroke-linecap="butt"/>
<circle cx="480.50" cy="1078.80" r="4.75" fill="#fff" stroke="#000" stroke-width="1.75"/>
<circle cx="471.00" cy="1090.52" r="4.75" fill="#fff" stroke="#000" stroke-width="1.75"/>
<circle cx="480.50" cy="1088.56" r="4.75" fill="#fff" stroke="#000" stroke-width="1.75"/>
<circle cx="489.00" cy="1090.52" r="4.75" fill="#fff" stroke="#000" stroke-width="1.75"/>
<circle cx="475.00" cy="1096.37" r="4.75" fill="#fff" stroke="#000" stroke-width="1.75"/>
<circle cx="486.00" cy="1096.37" r="4.75" fill="#fff" stroke="#000" stroke-width="1.75"/>
<circle cx="471.00" cy="1104.18" r="4.75" fill="#fff" stroke="#000" stroke-width="1.75"/>
<circle cx="480.50" cy="1104.18" r="4.75" fill="#fff" stroke="#000" stroke-width="1.75"/>
<circle cx="489.00" cy="1104.18" r="4.75" fill="#fff" stroke="#000" stroke-width="1.75"/>
<circle cx="480.50" cy="1115.89" r="4.75" fill="#fff" stroke="#000" stroke-width="1.75"/>
<circle cx="480.50" cy="1127.60" r="4.75" fill="#fff" stroke="#000" stroke-width="1.75"/>
<polygon points="531.00,1051.39 536.10,1061.29 525.90,1061.29" fill="#fff" stroke="#000" stroke-width="1.9" stroke-linejoin="round"/>
<polygon points="543.00,1051.39 548.10,1061.29 537.90,1061.29" fill="#fff" stroke="#000" stroke-width="1.9" stroke-linejoin="round"/>
<polygon points="522.00,1070.91 527.10,1080.81 516.90,1080.81" fill="#fff" stroke="#000" stroke-width="1.9" stroke-linejoin="round"/>
<polygon points="536.00,1069.74 541.10,1079.64 530.90,1079.64" fill="#fff" stroke="#000" stroke-width="1.9" stroke-linejoin="round"/>
<polygon points="550.00,1072.86 555.10,1082.76 544.90,1082.76" fill="#fff" stroke="#000" stroke-width="1.9" stroke-linejoin="round"/>
<polygon points="536.00,1078.72 541.10,1088.62 530.90,1088.62" fill="#fff" stroke="#000" stroke-width="1.9" stroke-linejoin="round"/>
<polygon points="522.00,1094.34 527.10,1104.24 516.90,1104.24" fill="#fff" stroke="#000" stroke-width="1.9" stroke-linejoin="round"/>
<polygon points="536.00,1098.24 541.10,1108.14 530.90,1108.14" fill="#fff" stroke="#000" stroke-width="1.9" stroke-linejoin="round"/>
<polygon points="550.00,1096.29 555.10,1106.19 544.90,1106.19" fill="#fff" stroke="#000" stroke-width="1.9" stroke-linejoin="round"/>
<polygon points="536.00,1117.76 541.10,1127.66 530.90,1127.66" fill="#fff" stroke="#000" stroke-width="1.9" stroke-linejoin="round"/>
<polyline points="480.50,1066.00 480.50,1032.00 536.20,1032.00 536.20,1043.00" fill="none" stroke="#000" stroke-width="2.0" stroke-linejoin="miter"/>
<text x="508.70" y="1019.80" font-size="24.8" text-anchor="middle"><tspan font-style="italic">P</tspan> = 0.0911</text>
<text transform="translate(348.80,1117.60) rotate(-90)" font-size="24.8" text-anchor="middle">CD62L MFI</text>
<text transform="translate(489.00,1249.50) rotate(-45)" font-size="24.7" text-anchor="end">HER2 CAR-T</text>
<text transform="translate(544.70,1249.50) rotate(-45)" font-size="24.7" text-anchor="end">IL-10 HER2 CAR-T</text>
<text transform="translate(307.00,991.70) scale(1.1,1)" font-size="34" font-weight="bold" style="stroke-width:1.5px">i</text>
<rect x="761.70" y="1116.39" width="36.30" height="105.41" fill="#808080"/>
<rect x="816.90" y="1112.49" width="36.90" height="109.31" fill="#fe7f7f"/>
<line x1="779.85" y1="1116.39" x2="779.85" y2="1110.93" stroke="#6e6e6e" stroke-width="1.6" stroke-linecap="butt"/>
<line x1="772.85" y1="1110.93" x2="786.85" y2="1110.93" stroke="#6e6e6e" stroke-width="1.6" stroke-linecap="butt"/>
<line x1="835.35" y1="1112.49" x2="835.35" y2="1104.68" stroke="#e07278" stroke-width="1.6" stroke-linecap="butt"/>
<line x1="828.35" y1="1104.68" x2="842.35" y2="1104.68" stroke="#e07278" stroke-width="1.6" stroke-linecap="butt"/>
<line x1="742.00" y1="1025.60" x2="742.00" y2="1222.85" stroke="#000" stroke-width="2.1" stroke-linecap="butt"/>
<line x1="733.50" y1="1221.80" x2="872.70" y2="1221.80" stroke="#000" stroke-width="2.1" stroke-linecap="butt"/>
<line x1="733.50" y1="1221.80" x2="742.00" y2="1221.80" stroke="#000" stroke-width="2.1" stroke-linecap="butt"/>
<text x="730.30" y="1230.48" font-size="24.8" text-anchor="end">0</text>
<line x1="733.50" y1="1182.76" x2="742.00" y2="1182.76" stroke="#000" stroke-width="2.1" stroke-linecap="butt"/>
<text x="730.30" y="1190.45" font-size="24.8" text-anchor="end">5×10<tspan font-size="16.864" dx="2.2319999999999998" dy="-6.944000000000001">4</tspan></text>
<line x1="733.50" y1="1143.72" x2="742.00" y2="1143.72" stroke="#000" stroke-width="2.1" stroke-linecap="butt"/>
<text x="730.30" y="1151.41" font-size="24.8" text-anchor="end">1×10<tspan font-size="16.864" dx="2.2319999999999998" dy="-6.944000000000001">5</tspan></text>
<line x1="733.50" y1="1104.68" x2="742.00" y2="1104.68" stroke="#000" stroke-width="2.1" stroke-linecap="butt"/>
<text x="730.30" y="1112.37" font-size="24.8" text-anchor="end">1.5×10<tspan font-size="16.864" dx="2.2319999999999998" dy="-6.944000000000001">5</tspan></text>
<line x1="733.50" y1="1065.64" x2="742.00" y2="1065.64" stroke="#000" stroke-width="2.1" stroke-linecap="butt"/>
<text x="730.30" y="1073.33" font-size="24.8" text-anchor="end">2×10<tspan font-size="16.864" dx="2.2319999999999998" dy="-6.944000000000001">5</tspan></text>
<line x1="733.50" y1="1026.60" x2="742.00" y2="1026.60" stroke="#000" stroke-width="2.1" stroke-linecap="butt"/>
<text x="730.30" y="1034.29" font-size="24.8" text-anchor="end">2.5×10<tspan font-size="16.864" dx="2.2319999999999998" dy="-6.944000000000001">5</tspan></text>
<line x1="780.10" y1="1221.80" x2="780.10" y2="1230.30" stroke="#000" stroke-width="2.1" stroke-linecap="butt"/>
<line x1="835.30" y1="1221.80" x2="835.30" y2="1230.30" stroke="#000" stroke-width="2.1" stroke-linecap="butt"/>
<circle cx="773.00" cy="1087.50" r="4.75" fill="#fff" stroke="#000" stroke-width="1.75"/>
<circle cx="787.00" cy="1087.50" r="4.75" fill="#fff" stroke="#000" stroke-width="1.75"/>
<circle cx="780.00" cy="1094.53" r="4.75" fill="#fff" stroke="#000" stroke-width="1.75"/>
<circle cx="783.00" cy="1120.30" r="4.75" fill="#fff" stroke="#000" stroke-width="1.75"/>
<circle cx="773.00" cy="1124.98" r="4.75" fill="#fff" stroke="#000" stroke-width="1.75"/>
<circle cx="787.00" cy="1124.98" r="4.75" fill="#fff" stroke="#000" stroke-width="1.75"/>
<circle cx="766.00" cy="1130.45" r="4.75" fill="#fff" stroke="#000" stroke-width="1.75"/>
<circle cx="780.00" cy="1130.45" r="4.75" fill="#fff" stroke="#000" stroke-width="1.75"/>
<circle cx="794.00" cy="1130.45" r="4.75" fill="#fff" stroke="#000" stroke-width="1.75"/>
<circle cx="793.00" cy="1135.13" r="4.75" fill="#fff" stroke="#000" stroke-width="1.75"/>
<polygon points="835.00,1069.07 840.10,1078.97 829.90,1078.97" fill="#fff" stroke="#000" stroke-width="1.9" stroke-linejoin="round"/>
<polygon points="822.00,1078.44 827.10,1088.34 816.90,1088.34" fill="#fff" stroke="#000" stroke-width="1.9" stroke-linejoin="round"/>
<polygon points="849.00,1080.00 854.10,1089.90 843.90,1089.90" fill="#fff" stroke="#000" stroke-width="1.9" stroke-linejoin="round"/>
<polygon points="835.00,1102.64 840.10,1112.54 829.90,1112.54" fill="#fff" stroke="#000" stroke-width="1.9" stroke-linejoin="round"/>
<polygon points="835.00,1114.36 840.10,1124.26 829.90,1124.26" fill="#fff" stroke="#000" stroke-width="1.9" stroke-linejoin="round"/>
<polygon points="849.00,1114.36 854.10,1124.26 843.90,1124.26" fill="#fff" stroke="#000" stroke-width="1.9" stroke-linejoin="round"/>
<polygon points="822.00,1120.60 827.10,1130.50 816.90,1130.50" fill="#fff" stroke="#000" stroke-width="1.9" stroke-linejoin="round"/>
<polygon points="849.00,1122.16 854.10,1132.06 843.90,1132.06" fill="#fff" stroke="#000" stroke-width="1.9" stroke-linejoin="round"/>
<polygon points="828.00,1131.53 833.10,1141.43 822.90,1141.43" fill="#fff" stroke="#000" stroke-width="1.9" stroke-linejoin="round"/>
<polygon points="842.00,1131.53 847.10,1141.43 836.90,1141.43" fill="#fff" stroke="#000" stroke-width="1.9" stroke-linejoin="round"/>
<polyline points="780.10,1073.00 780.10,1050.00 835.30,1050.00 835.30,1061.00" fill="none" stroke="#000" stroke-width="2.0" stroke-linejoin="miter"/>
<text x="809.00" y="1039.80" font-size="24.8" text-anchor="middle"><tspan font-style="italic">P</tspan> = 0.6806</text>
<text transform="translate(627.40,1118.80) rotate(-90)" font-size="24.8" text-anchor="middle">Sca-1 MFI</text>
<text transform="translate(788.60,1249.50) rotate(-45)" font-size="24.7" text-anchor="end">HER2 CAR-T</text>
<text transform="translate(843.80,1249.50) rotate(-45)" font-size="24.7" text-anchor="end">IL-10 HER2 CAR-T</text>
<text transform="translate(580.00,991.70) scale(1.1,1)" font-size="34" font-weight="bold" style="stroke-width:1.5px">j</text>
<rect x="1044.80" y="1096.37" width="36.80" height="124.93" fill="#808080"/>
<rect x="1100.30" y="1099.79" width="36.80" height="121.51" fill="#fe7f7f"/>
<line x1="1063.20" y1="1096.37" x2="1063.20" y2="1089.05" stroke="#6e6e6e" stroke-width="1.6" stroke-linecap="butt"/>
<line x1="1056.20" y1="1089.05" x2="1070.20" y2="1089.05" stroke="#6e6e6e" stroke-width="1.6" stroke-linecap="butt"/>
<line x1="1118.70" y1="1099.79" x2="1118.70" y2="1090.03" stroke="#e07278" stroke-width="1.6" stroke-linecap="butt"/>
<line x1="1111.70" y1="1090.03" x2="1125.70" y2="1090.03" stroke="#e07278" stroke-width="1.6" stroke-linecap="butt"/>
<line x1="1025.90" y1="1025.10" x2="1025.90" y2="1222.35" stroke="#000" stroke-width="2.1" stroke-linecap="butt"/>
<line x1="1017.40" y1="1221.30" x2="1156.80" y2="1221.30" stroke="#000" stroke-width="2.1" stroke-linecap="butt"/>
<line x1="1017.40" y1="1221.30" x2="1025.90" y2="1221.30" stroke="#000" stroke-width="2.1" stroke-linecap="butt"/>
<text x="1014.20" y="1229.98" font-size="24.8" text-anchor="end">0</text>
<line x1="1017.40" y1="1172.50" x2="1025.90" y2="1172.50" stroke="#000" stroke-width="2.1" stroke-linecap="butt"/>
<text x="1014.20" y="1180.19" font-size="24.8" text-anchor="end">1×10<tspan font-size="16.864" dx="2.2319999999999998" dy="-6.944000000000001">3</tspan></text>
<line x1="1017.40" y1="1123.70" x2="1025.90" y2="1123.70" stroke="#000" stroke-width="2.1" stroke-linecap="butt"/>
<text x="1014.20" y="1131.39" font-size="24.8" text-anchor="end">2×10<tspan font-size="16.864" dx="2.2319999999999998" dy="-6.944000000000001">3</tspan></text>
<line x1="1017.40" y1="1074.90" x2="1025.90" y2="1074.90" stroke="#000" stroke-width="2.1" stroke-linecap="butt"/>
<text x="1014.20" y="1082.59" font-size="24.8" text-anchor="end">3×10<tspan font-size="16.864" dx="2.2319999999999998" dy="-6.944000000000001">3</tspan></text>
<line x1="1017.40" y1="1026.10" x2="1025.90" y2="1026.10" stroke="#000" stroke-width="2.1" stroke-linecap="butt"/>
<text x="1014.20" y="1033.79" font-size="24.8" text-anchor="end">4×10<tspan font-size="16.864" dx="2.2319999999999998" dy="-6.944000000000001">3</tspan></text>
<line x1="1063.00" y1="1221.30" x2="1063.00" y2="1229.80" stroke="#000" stroke-width="2.1" stroke-linecap="butt"/>
<line x1="1118.70" y1="1221.30" x2="1118.70" y2="1229.80" stroke="#000" stroke-width="2.1" stroke-linecap="butt"/>
<circle cx="1063.00" cy="1060.26" r="4.75" fill="#fff" stroke="#000" stroke-width="1.75"/>
<circle cx="1050.00" cy="1067.58" r="4.75" fill="#fff" stroke="#000" stroke-width="1.75"/>
<circle cx="1063.00" cy="1077.34" r="4.75" fill="#fff" stroke="#000" stroke-width="1.75"/>
<circle cx="1063.00" cy="1095.40" r="4.75" fill="#fff" stroke="#000" stroke-width="1.75"/>
<circle cx="1050.00" cy="1101.74" r="4.75" fill="#fff" stroke="#000" stroke-width="1.75"/>
<circle cx="1077.00" cy="1101.74" r="4.75" fill="#fff" stroke="#000" stroke-width="1.75"/>
<circle cx="1050.00" cy="1111.50" r="4.75" fill="#fff" stroke="#000" stroke-width="1.75"/>
<circle cx="1063.00" cy="1113.94" r="4.75" fill="#fff" stroke="#000" stroke-width="1.75"/>
<circle cx="1077.00" cy="1116.38" r="4.75" fill="#fff" stroke="#000" stroke-width="1.75"/>
<circle cx="1050.00" cy="1123.70" r="4.75" fill="#fff" stroke="#000" stroke-width="1.75"/>
<polygon points="1124.00,1047.00 1129.10,1056.90 1118.90,1056.90" fill="#fff" stroke="#000" stroke-width="1.9" stroke-linejoin="round"/>
<polygon points="1114.00,1052.86 1119.10,1062.76 1108.90,1062.76" fill="#fff" stroke="#000" stroke-width="1.9" stroke-linejoin="round"/>
<polygon points="1124.00,1063.10 1129.10,1073.00 1118.90,1073.00" fill="#fff" stroke="#000" stroke-width="1.9" stroke-linejoin="round"/>
<polygon points="1111.00,1096.78 1116.10,1106.68 1105.90,1106.68" fill="#fff" stroke="#000" stroke-width="1.9" stroke-linejoin="round"/>
<polygon points="1119.00,1091.90 1124.10,1101.80 1113.90,1101.80" fill="#fff" stroke="#000" stroke-width="1.9" stroke-linejoin="round"/>
<polygon points="1129.00,1091.90 1134.10,1101.80 1123.90,1101.80" fill="#fff" stroke="#000" stroke-width="1.9" stroke-linejoin="round"/>
<polygon points="1105.00,1127.52 1110.10,1137.42 1099.90,1137.42" fill="#fff" stroke="#000" stroke-width="1.9" stroke-linejoin="round"/>
<polygon points="1114.00,1125.08 1119.10,1134.98 1108.90,1134.98" fill="#fff" stroke="#000" stroke-width="1.9" stroke-linejoin="round"/>
<polygon points="1124.00,1127.52 1129.10,1137.42 1118.90,1137.42" fill="#fff" stroke="#000" stroke-width="1.9" stroke-linejoin="round"/>
<polygon points="1134.00,1127.52 1139.10,1137.42 1128.90,1137.42" fill="#fff" stroke="#000" stroke-width="1.9" stroke-linejoin="round"/>
<polyline points="1063.00,1047.50 1063.00,1030.00 1118.70,1030.00 1118.70,1040.00" fill="none" stroke="#000" stroke-width="2.0" stroke-linejoin="miter"/>
<text x="1092.80" y="1017.80" font-size="24.8" text-anchor="middle"><tspan font-style="italic">P</tspan> = 0.7759</text>
<text transform="translate(936.30,1118.20) rotate(-90)" font-size="24.8" text-anchor="middle">CD122 MFI</text>
<text transform="translate(1071.50,1249.50) rotate(-45)" font-size="24.7" text-anchor="end">HER2 CAR-T</text>
<text transform="translate(1127.20,1249.50) rotate(-45)" font-size="24.7" text-anchor="end">IL-10 HER2 CAR-T</text>
<text transform="translate(884.30,991.70) scale(1.1,1)" font-size="34" font-weight="bold" style="stroke-width:1.5px">k</text>
<rect x="1333.80" y="1163.69" width="36.90" height="57.11" fill="#808080"/>
<rect x="1389.00" y="1136.43" width="36.70" height="84.37" fill="#fe7f7f"/>
<line x1="1407.35" y1="1136.43" x2="1407.35" y2="1122.15" stroke="#e07278" stroke-width="1.6" stroke-linecap="butt"/>
<line x1="1400.35" y1="1122.15" x2="1414.35" y2="1122.15" stroke="#e07278" stroke-width="1.6" stroke-linecap="butt"/>
<line x1="1314.70" y1="1025.10" x2="1314.70" y2="1221.85" stroke="#000" stroke-width="2.1" stroke-linecap="butt"/>
<line x1="1306.20" y1="1220.80" x2="1444.80" y2="1220.80" stroke="#000" stroke-width="2.1" stroke-linecap="butt"/>
<line x1="1306.20" y1="1220.80" x2="1314.70" y2="1220.80" stroke="#000" stroke-width="2.1" stroke-linecap="butt"/>
<text x="1303.00" y="1229.48" font-size="24.8" text-anchor="end">0</text>
<line x1="1306.20" y1="1155.90" x2="1314.70" y2="1155.90" stroke="#000" stroke-width="2.1" stroke-linecap="butt"/>
<text x="1303.00" y="1163.59" font-size="24.8" text-anchor="end">5×10<tspan font-size="16.864" dx="2.2319999999999998" dy="-6.944000000000001">2</tspan></text>
<line x1="1306.20" y1="1091.00" x2="1314.70" y2="1091.00" stroke="#000" stroke-width="2.1" stroke-linecap="butt"/>
<text x="1303.00" y="1098.69" font-size="24.8" text-anchor="end">1×10<tspan font-size="16.864" dx="2.2319999999999998" dy="-6.944000000000001">3</tspan></text>
<line x1="1306.20" y1="1026.10" x2="1314.70" y2="1026.10" stroke="#000" stroke-width="2.1" stroke-linecap="butt"/>
<text x="1303.00" y="1033.79" font-size="24.8" text-anchor="end">1.5×10<tspan font-size="16.864" dx="2.2319999999999998" dy="-6.944000000000001">3</tspan></text>
<line x1="1352.00" y1="1220.80" x2="1352.00" y2="1229.30" stroke="#000" stroke-width="2.1" stroke-linecap="butt"/>
<line x1="1407.00" y1="1220.80" x2="1407.00" y2="1229.30" stroke="#000" stroke-width="2.1" stroke-linecap="butt"/>
<circle cx="1352.00" cy="1122.15" r="4.75" fill="#fff" stroke="#000" stroke-width="1.75"/>
<circle cx="1343.00" cy="1157.20" r="4.75" fill="#fff" stroke="#000" stroke-width="1.75"/>
<circle cx="1352.00" cy="1157.20" r="4.75" fill="#fff" stroke="#000" stroke-width="1.75"/>
<circle cx="1361.00" cy="1157.20" r="4.75" fill="#fff" stroke="#000" stroke-width="1.75"/>
<circle cx="1338.00" cy="1168.88" r="4.75" fill="#fff" stroke="#000" stroke-width="1.75"/>
<circle cx="1347.00" cy="1171.48" r="4.75" fill="#fff" stroke="#000" stroke-width="1.75"/>
<circle cx="1356.00" cy="1171.48" r="4.75" fill="#fff" stroke="#000" stroke-width="1.75"/>
<circle cx="1366.00" cy="1171.48" r="4.75" fill="#fff" stroke="#000" stroke-width="1.75"/>
<circle cx="1352.00" cy="1187.05" r="4.75" fill="#fff" stroke="#000" stroke-width="1.75"/>
<polygon points="1407.00,1057.80 1412.10,1067.70 1401.90,1067.70" fill="#fff" stroke="#000" stroke-width="1.9" stroke-linejoin="round"/>
<polygon points="1407.00,1077.27 1412.10,1087.17 1401.90,1087.17" fill="#fff" stroke="#000" stroke-width="1.9" stroke-linejoin="round"/>
<polygon points="1407.00,1099.34 1412.10,1109.24 1401.90,1109.24" fill="#fff" stroke="#000" stroke-width="1.9" stroke-linejoin="round"/>
<polygon points="1401.00,1152.56 1406.10,1162.46 1395.90,1162.46" fill="#fff" stroke="#000" stroke-width="1.9" stroke-linejoin="round"/>
<polygon points="1411.00,1153.85 1416.10,1163.75 1405.90,1163.75" fill="#fff" stroke="#000" stroke-width="1.9" stroke-linejoin="round"/>
<polygon points="1421.00,1152.56 1426.10,1162.46 1415.90,1162.46" fill="#fff" stroke="#000" stroke-width="1.9" stroke-linejoin="round"/>
<polygon points="1392.00,1160.34 1397.10,1170.24 1386.90,1170.24" fill="#fff" stroke="#000" stroke-width="1.9" stroke-linejoin="round"/>
<polygon points="1417.00,1162.94 1422.10,1172.84 1411.90,1172.84" fill="#fff" stroke="#000" stroke-width="1.9" stroke-linejoin="round"/>
<polyline points="1352.00,1111.00 1352.00,1042.00 1407.00,1042.00 1407.00,1048.00" fill="none" stroke="#000" stroke-width="2.0" stroke-linejoin="miter"/>
<text x="1381.00" y="1030.00" font-size="24.8" text-anchor="middle"><tspan font-style="italic">P</tspan> = 0.0854</text>
<text transform="translate(1206.20,1118.00) rotate(-90)" font-size="24.8" text-anchor="middle">IL-7Rα MFI</text>
<text transform="translate(1360.50,1249.50) rotate(-45)" font-size="24.7" text-anchor="end">HER2 CAR-T</text>
<text transform="translate(1415.50,1249.50) rotate(-45)" font-size="24.7" text-anchor="end">IL-10 HER2 CAR-T</text>
<text transform="translate(1179.00,991.70) scale(1.1,1)" font-size="34" font-weight="bold" style="stroke-width:1.5px">l</text>
<rect x="173.20" y="1544.82" width="35.80" height="112.18" fill="#808080"/>
<rect x="228.20" y="1547.26" width="36.40" height="109.74" fill="#fe7f7f"/>
<line x1="191.10" y1="1544.82" x2="191.10" y2="1537.99" stroke="#6e6e6e" stroke-width="1.6" stroke-linecap="butt"/>
<line x1="184.10" y1="1537.99" x2="198.10" y2="1537.99" stroke="#6e6e6e" stroke-width="1.6" stroke-linecap="butt"/>
<line x1="246.40" y1="1547.26" x2="246.40" y2="1532.62" stroke="#e07278" stroke-width="1.6" stroke-linecap="butt"/>
<line x1="239.40" y1="1532.62" x2="253.40" y2="1532.62" stroke="#e07278" stroke-width="1.6" stroke-linecap="butt"/>
<line x1="154.00" y1="1460.90" x2="154.00" y2="1658.05" stroke="#000" stroke-width="2.1" stroke-linecap="butt"/>
<line x1="146.40" y1="1657.00" x2="284.00" y2="1657.00" stroke="#000" stroke-width="2.1" stroke-linecap="butt"/>
<line x1="146.40" y1="1657.00" x2="154.00" y2="1657.00" stroke="#000" stroke-width="2.1" stroke-linecap="butt"/>
<text x="143.20" y="1665.68" font-size="24.8" text-anchor="end">0</text>
<line x1="146.40" y1="1608.22" x2="154.00" y2="1608.22" stroke="#000" stroke-width="2.1" stroke-linecap="butt"/>
<text x="143.20" y="1615.91" font-size="24.8" text-anchor="end">1×10<tspan font-size="16.864" dx="2.2319999999999998" dy="-6.944000000000001">3</tspan></text>
<line x1="146.40" y1="1559.45" x2="154.00" y2="1559.45" stroke="#000" stroke-width="2.1" stroke-linecap="butt"/>
<text x="143.20" y="1567.14" font-size="24.8" text-anchor="end">2×10<tspan font-size="16.864" dx="2.2319999999999998" dy="-6.944000000000001">3</tspan></text>
<line x1="146.40" y1="1510.68" x2="154.00" y2="1510.68" stroke="#000" stroke-width="2.1" stroke-linecap="butt"/>
<text x="143.20" y="1518.36" font-size="24.8" text-anchor="end">3×10<tspan font-size="16.864" dx="2.2319999999999998" dy="-6.944000000000001">3</tspan></text>
<line x1="146.40" y1="1461.90" x2="154.00" y2="1461.90" stroke="#000" stroke-width="2.1" stroke-linecap="butt"/>
<text x="143.20" y="1469.59" font-size="24.8" text-anchor="end">4×10<tspan font-size="16.864" dx="2.2319999999999998" dy="-6.944000000000001">3</tspan></text>
<line x1="190.90" y1="1657.00" x2="190.90" y2="1664.60" stroke="#000" stroke-width="2.1" stroke-linecap="butt"/>
<line x1="246.40" y1="1657.00" x2="246.40" y2="1664.60" stroke="#000" stroke-width="2.1" stroke-linecap="butt"/>
<circle cx="178.40" cy="1522.09" r="4.75" fill="#fff" stroke="#000" stroke-width="1.75"/>
<circle cx="196.10" cy="1528.82" r="4.75" fill="#fff" stroke="#000" stroke-width="1.75"/>
<circle cx="205.10" cy="1522.77" r="4.75" fill="#fff" stroke="#000" stroke-width="1.75"/>
<circle cx="178.40" cy="1543.84" r="4.75" fill="#fff" stroke="#000" stroke-width="1.75"/>
<circle cx="186.60" cy="1544.33" r="4.75" fill="#fff" stroke="#000" stroke-width="1.75"/>
<circle cx="194.90" cy="1543.84" r="4.75" fill="#fff" stroke="#000" stroke-width="1.75"/>
<circle cx="203.60" cy="1543.84" r="4.75" fill="#fff" stroke="#000" stroke-width="1.75"/>
<circle cx="181.90" cy="1566.42" r="4.75" fill="#fff" stroke="#000" stroke-width="1.75"/>
<circle cx="190.90" cy="1565.69" r="4.75" fill="#fff" stroke="#000" stroke-width="1.75"/>
<circle cx="199.60" cy="1565.69" r="4.75" fill="#fff" stroke="#000" stroke-width="1.75"/>
<polygon points="243.30,1494.44 248.40,1504.34 238.20,1504.34" fill="#fff" stroke="#000" stroke-width="1.9" stroke-linejoin="round"/>
<polygon points="250.90,1494.44 256.00,1504.34 245.80,1504.34" fill="#fff" stroke="#000" stroke-width="1.9" stroke-linejoin="round"/>
<polygon points="246.40,1516.83 251.50,1526.73 241.30,1526.73" fill="#fff" stroke="#000" stroke-width="1.9" stroke-linejoin="round"/>
<polygon points="232.70,1536.93 237.80,1546.83 227.60,1546.83" fill="#fff" stroke="#000" stroke-width="1.9" stroke-linejoin="round"/>
<polygon points="241.00,1538.19 246.10,1548.09 235.90,1548.09" fill="#fff" stroke="#000" stroke-width="1.9" stroke-linejoin="round"/>
<polygon points="249.20,1538.19 254.30,1548.09 244.10,1548.09" fill="#fff" stroke="#000" stroke-width="1.9" stroke-linejoin="round"/>
<polygon points="256.30,1538.19 261.40,1548.09 251.20,1548.09" fill="#fff" stroke="#000" stroke-width="1.9" stroke-linejoin="round"/>
<polygon points="261.00,1538.19 266.10,1548.09 255.90,1548.09" fill="#fff" stroke="#000" stroke-width="1.9" stroke-linejoin="round"/>
<polygon points="238.10,1566.53 243.20,1576.43 233.00,1576.43" fill="#fff" stroke="#000" stroke-width="1.9" stroke-linejoin="round"/>
<polygon points="246.40,1559.46 251.50,1569.36 241.30,1569.36" fill="#fff" stroke="#000" stroke-width="1.9" stroke-linejoin="round"/>
<polygon points="255.10,1562.24 260.20,1572.14 250.00,1572.14" fill="#fff" stroke="#000" stroke-width="1.9" stroke-linejoin="round"/>
<polyline points="190.90,1510.00 190.90,1477.00 246.40,1477.00 246.40,1487.00" fill="none" stroke="#000" stroke-width="2.0" stroke-linejoin="miter"/>
<text x="220.90" y="1465.00" font-size="24.8" text-anchor="middle"><tspan font-style="italic">P</tspan> = 0.7100</text>
<text transform="translate(64.10,1554.70) rotate(-90)" font-size="24.8" text-anchor="middle">KLRG-1 MFI</text>
<text transform="translate(199.40,1685.00) rotate(-45)" font-size="24.7" text-anchor="end">HER2 CAR-T</text>
<text transform="translate(254.90,1685.00) rotate(-45)" font-size="24.7" text-anchor="end">IL-10 HER2 CAR-T</text>
<text transform="translate(7.00,1433.10) scale(1.1,1)" font-size="34" font-weight="bold" style="stroke-width:1.5px">m</text>
<rect x="462.50" y="1547.07" width="36.10" height="109.93" fill="#808080"/>
<rect x="517.50" y="1554.92" width="36.60" height="102.08" fill="#fe7f7f"/>
<line x1="480.55" y1="1547.07" x2="480.55" y2="1539.22" stroke="#6e6e6e" stroke-width="1.6" stroke-linecap="butt"/>
<line x1="473.55" y1="1539.22" x2="487.55" y2="1539.22" stroke="#6e6e6e" stroke-width="1.6" stroke-linecap="butt"/>
<line x1="535.80" y1="1554.92" x2="535.80" y2="1549.04" stroke="#e07278" stroke-width="1.6" stroke-linecap="butt"/>
<line x1="528.80" y1="1549.04" x2="542.80" y2="1549.04" stroke="#e07278" stroke-width="1.6" stroke-linecap="butt"/>
<line x1="443.60" y1="1459.70" x2="443.60" y2="1658.05" stroke="#000" stroke-width="2.1" stroke-linecap="butt"/>
<line x1="436.00" y1="1657.00" x2="574.00" y2="1657.00" stroke="#000" stroke-width="2.1" stroke-linecap="butt"/>
<line x1="436.00" y1="1657.00" x2="443.60" y2="1657.00" stroke="#000" stroke-width="2.1" stroke-linecap="butt"/>
<text x="432.80" y="1665.68" font-size="24.8" text-anchor="end">0</text>
<line x1="436.00" y1="1591.57" x2="443.60" y2="1591.57" stroke="#000" stroke-width="2.1" stroke-linecap="butt"/>
<text x="432.80" y="1599.25" font-size="24.8" text-anchor="end">5×10<tspan font-size="16.864" dx="2.2319999999999998" dy="-6.944000000000001">3</tspan></text>
<line x1="436.00" y1="1526.13" x2="443.60" y2="1526.13" stroke="#000" stroke-width="2.1" stroke-linecap="butt"/>
<text x="432.80" y="1533.82" font-size="24.8" text-anchor="end">1×10<tspan font-size="16.864" dx="2.2319999999999998" dy="-6.944000000000001">4</tspan></text>
<line x1="436.00" y1="1460.70" x2="443.60" y2="1460.70" stroke="#000" stroke-width="2.1" stroke-linecap="butt"/>
<text x="432.80" y="1468.39" font-size="24.8" text-anchor="end">1.5×10<tspan font-size="16.864" dx="2.2319999999999998" dy="-6.944000000000001">4</tspan></text>
<line x1="479.70" y1="1657.00" x2="479.70" y2="1664.60" stroke="#000" stroke-width="2.1" stroke-linecap="butt"/>
<line x1="535.70" y1="1657.00" x2="535.70" y2="1664.60" stroke="#000" stroke-width="2.1" stroke-linecap="butt"/>
<circle cx="467.20" cy="1522.81" r="4.75" fill="#fff" stroke="#000" stroke-width="1.75"/>
<circle cx="476.60" cy="1522.81" r="4.75" fill="#fff" stroke="#000" stroke-width="1.75"/>
<circle cx="487.30" cy="1531.05" r="4.75" fill="#fff" stroke="#000" stroke-width="1.75"/>
<circle cx="494.30" cy="1528.75" r="4.75" fill="#fff" stroke="#000" stroke-width="1.75"/>
<circle cx="474.30" cy="1542.91" r="4.75" fill="#fff" stroke="#000" stroke-width="1.75"/>
<circle cx="484.90" cy="1542.91" r="4.75" fill="#fff" stroke="#000" stroke-width="1.75"/>
<circle cx="494.30" cy="1544.10" r="4.75" fill="#fff" stroke="#000" stroke-width="1.75"/>
<circle cx="484.90" cy="1552.40" r="4.75" fill="#fff" stroke="#000" stroke-width="1.75"/>
<circle cx="470.70" cy="1579.50" r="4.75" fill="#fff" stroke="#000" stroke-width="1.75"/>
<circle cx="481.40" cy="1576.01" r="4.75" fill="#fff" stroke="#000" stroke-width="1.75"/>
<circle cx="489.60" cy="1577.20" r="4.75" fill="#fff" stroke="#000" stroke-width="1.75"/>
<polygon points="522.70,1525.17 527.80,1535.07 517.60,1535.07" fill="#fff" stroke="#000" stroke-width="1.9" stroke-linejoin="round"/>
<polygon points="533.30,1529.16 538.40,1539.06 528.20,1539.06" fill="#fff" stroke="#000" stroke-width="1.9" stroke-linejoin="round"/>
<polygon points="549.40,1529.16 554.50,1539.06 544.30,1539.06" fill="#fff" stroke="#000" stroke-width="1.9" stroke-linejoin="round"/>
<polygon points="522.70,1535.36 527.80,1545.26 517.60,1545.26" fill="#fff" stroke="#000" stroke-width="1.9" stroke-linejoin="round"/>
<polygon points="549.40,1543.36 554.50,1553.26 544.30,1553.26" fill="#fff" stroke="#000" stroke-width="1.9" stroke-linejoin="round"/>
<polygon points="549.40,1559.45 554.50,1569.35 544.30,1569.35" fill="#fff" stroke="#000" stroke-width="1.9" stroke-linejoin="round"/>
<polygon points="522.70,1563.67 527.80,1573.57 517.60,1573.57" fill="#fff" stroke="#000" stroke-width="1.9" stroke-linejoin="round"/>
<polygon points="535.70,1568.86 540.80,1578.76 530.60,1578.76" fill="#fff" stroke="#000" stroke-width="1.9" stroke-linejoin="round"/>
<polygon points="549.40,1568.86 554.50,1578.76 544.30,1578.76" fill="#fff" stroke="#000" stroke-width="1.9" stroke-linejoin="round"/>
<polygon points="522.70,1572.46 527.80,1582.36 517.60,1582.36" fill="#fff" stroke="#000" stroke-width="1.9" stroke-linejoin="round"/>
<polyline points="479.70,1511.00 479.70,1500.00 535.70,1500.00 535.70,1519.00" fill="none" stroke="#000" stroke-width="2.0" stroke-linejoin="miter"/>
<text x="511.50" y="1487.60" font-size="24.8" text-anchor="middle"><tspan font-style="italic">P</tspan> = 0.4239</text>
<text transform="translate(333.30,1554.00) rotate(-90)" font-size="24.8" text-anchor="middle">PD-1 MFI</text>
<text transform="translate(488.20,1685.00) rotate(-45)" font-size="24.7" text-anchor="end">HER2 CAR-T</text>
<text transform="translate(544.20,1685.00) rotate(-45)" font-size="24.7" text-anchor="end">IL-10 HER2 CAR-T</text>
<text transform="translate(305.00,1433.10) scale(1.1,1)" font-size="34" font-weight="bold" style="stroke-width:1.5px">n</text>
<rect x="761.20" y="1574.84" width="36.60" height="83.16" fill="#808080"/>
<rect x="816.70" y="1572.24" width="36.90" height="85.76" fill="#fe7f7f"/>
<line x1="779.50" y1="1574.84" x2="779.50" y2="1563.15" stroke="#6e6e6e" stroke-width="1.6" stroke-linecap="butt"/>
<line x1="772.50" y1="1563.15" x2="786.50" y2="1563.15" stroke="#6e6e6e" stroke-width="1.6" stroke-linecap="butt"/>
<line x1="835.15" y1="1572.24" x2="835.15" y2="1560.55" stroke="#e07278" stroke-width="1.6" stroke-linecap="butt"/>
<line x1="828.15" y1="1560.55" x2="842.15" y2="1560.55" stroke="#e07278" stroke-width="1.6" stroke-linecap="butt"/>
<line x1="742.50" y1="1462.10" x2="742.50" y2="1659.05" stroke="#000" stroke-width="2.1" stroke-linecap="butt"/>
<line x1="734.90" y1="1658.00" x2="872.90" y2="1658.00" stroke="#000" stroke-width="2.1" stroke-linecap="butt"/>
<line x1="734.90" y1="1658.00" x2="742.50" y2="1658.00" stroke="#000" stroke-width="2.1" stroke-linecap="butt"/>
<text x="731.70" y="1666.68" font-size="24.8" text-anchor="end">0</text>
<line x1="734.90" y1="1593.03" x2="742.50" y2="1593.03" stroke="#000" stroke-width="2.1" stroke-linecap="butt"/>
<text x="731.70" y="1600.72" font-size="24.8" text-anchor="end">5×10<tspan font-size="16.864" dx="2.2319999999999998" dy="-6.944000000000001">2</tspan></text>
<line x1="734.90" y1="1528.07" x2="742.50" y2="1528.07" stroke="#000" stroke-width="2.1" stroke-linecap="butt"/>
<text x="731.70" y="1535.75" font-size="24.8" text-anchor="end">1×10<tspan font-size="16.864" dx="2.2319999999999998" dy="-6.944000000000001">3</tspan></text>
<line x1="734.90" y1="1463.10" x2="742.50" y2="1463.10" stroke="#000" stroke-width="2.1" stroke-linecap="butt"/>
<text x="731.70" y="1470.79" font-size="24.8" text-anchor="end">1.5×10<tspan font-size="16.864" dx="2.2319999999999998" dy="-6.944000000000001">3</tspan></text>
<line x1="779.60" y1="1658.00" x2="779.60" y2="1665.60" stroke="#000" stroke-width="2.1" stroke-linecap="butt"/>
<line x1="835.10" y1="1658.00" x2="835.10" y2="1665.60" stroke="#000" stroke-width="2.1" stroke-linecap="butt"/>
<circle cx="766.00" cy="1535.86" r="4.75" fill="#fff" stroke="#000" stroke-width="1.75"/>
<circle cx="779.00" cy="1534.56" r="4.75" fill="#fff" stroke="#000" stroke-width="1.75"/>
<circle cx="786.00" cy="1534.56" r="4.75" fill="#fff" stroke="#000" stroke-width="1.75"/>
<circle cx="793.00" cy="1537.16" r="4.75" fill="#fff" stroke="#000" stroke-width="1.75"/>
<circle cx="780.00" cy="1543.66" r="4.75" fill="#fff" stroke="#000" stroke-width="1.75"/>
<circle cx="766.00" cy="1574.84" r="4.75" fill="#fff" stroke="#000" stroke-width="1.75"/>
<circle cx="779.00" cy="1582.64" r="4.75" fill="#fff" stroke="#000" stroke-width="1.75"/>
<circle cx="793.00" cy="1581.34" r="4.75" fill="#fff" stroke="#000" stroke-width="1.75"/>
<circle cx="766.00" cy="1620.32" r="4.75" fill="#fff" stroke="#000" stroke-width="1.75"/>
<circle cx="779.00" cy="1617.72" r="4.75" fill="#fff" stroke="#000" stroke-width="1.75"/>
<circle cx="793.00" cy="1617.72" r="4.75" fill="#fff" stroke="#000" stroke-width="1.75"/>
<polygon points="822.00,1529.92 827.10,1539.82 816.90,1539.82" fill="#fff" stroke="#000" stroke-width="1.9" stroke-linejoin="round"/>
<polygon points="830.00,1529.92 835.10,1539.82 824.90,1539.82" fill="#fff" stroke="#000" stroke-width="1.9" stroke-linejoin="round"/>
<polygon points="848.00,1524.73 853.10,1534.63 842.90,1534.63" fill="#fff" stroke="#000" stroke-width="1.9" stroke-linejoin="round"/>
<polygon points="850.00,1532.52 855.10,1542.42 844.90,1542.42" fill="#fff" stroke="#000" stroke-width="1.9" stroke-linejoin="round"/>
<polygon points="835.00,1568.90 840.10,1578.80 829.90,1578.80" fill="#fff" stroke="#000" stroke-width="1.9" stroke-linejoin="round"/>
<polygon points="829.00,1580.60 834.10,1590.50 823.90,1590.50" fill="#fff" stroke="#000" stroke-width="1.9" stroke-linejoin="round"/>
<polygon points="842.00,1583.20 847.10,1593.10 836.90,1593.10" fill="#fff" stroke="#000" stroke-width="1.9" stroke-linejoin="round"/>
<polygon points="829.00,1596.19 834.10,1606.09 823.90,1606.09" fill="#fff" stroke="#000" stroke-width="1.9" stroke-linejoin="round"/>
<polygon points="842.00,1598.79 847.10,1608.69 836.90,1608.69" fill="#fff" stroke="#000" stroke-width="1.9" stroke-linejoin="round"/>
<polygon points="835.00,1614.38 840.10,1624.28 829.90,1624.28" fill="#fff" stroke="#000" stroke-width="1.9" stroke-linejoin="round"/>
<polyline points="779.60,1523.00 779.60,1507.00 835.10,1507.00 835.10,1516.00" fill="none" stroke="#000" stroke-width="2.0" stroke-linejoin="miter"/>
<text x="808.00" y="1494.80" font-size="24.8" text-anchor="middle"><tspan font-style="italic">P</tspan> = 0.8941</text>
<text transform="translate(631.60,1556.00) rotate(-90)" font-size="24.8" text-anchor="middle">TIM-3 MFI</text>
<text transform="translate(788.10,1685.00) rotate(-45)" font-size="24.7" text-anchor="end">HER2 CAR-T</text>
<text transform="translate(843.60,1685.00) rotate(-45)" font-size="24.7" text-anchor="end">IL-10 HER2 CAR-T</text>
<text transform="translate(595.00,1433.10) scale(1.1,1)" font-size="34" font-weight="bold" style="stroke-width:1.5px">o</text>
<rect x="1071.90" y="1537.50" width="36.10" height="119.50" fill="#808080"/>
<rect x="1126.90" y="1548.48" width="36.70" height="108.52" fill="#fe7f7f"/>
<line x1="1145.25" y1="1548.48" x2="1145.25" y2="1539.94" stroke="#e07278" stroke-width="1.6" stroke-linecap="butt"/>
<line x1="1138.25" y1="1539.94" x2="1152.25" y2="1539.94" stroke="#e07278" stroke-width="1.6" stroke-linecap="butt"/>
<line x1="1052.50" y1="1460.90" x2="1052.50" y2="1658.05" stroke="#000" stroke-width="2.1" stroke-linecap="butt"/>
<line x1="1044.90" y1="1657.00" x2="1183.40" y2="1657.00" stroke="#000" stroke-width="2.1" stroke-linecap="butt"/>
<line x1="1044.90" y1="1657.00" x2="1052.50" y2="1657.00" stroke="#000" stroke-width="2.1" stroke-linecap="butt"/>
<text x="1041.70" y="1665.68" font-size="24.8" text-anchor="end">0</text>
<line x1="1044.90" y1="1608.22" x2="1052.50" y2="1608.22" stroke="#000" stroke-width="2.1" stroke-linecap="butt"/>
<text x="1041.70" y="1615.91" font-size="24.8" text-anchor="end">2×10<tspan font-size="16.864" dx="2.2319999999999998" dy="-6.944000000000001">3</tspan></text>
<line x1="1044.90" y1="1559.45" x2="1052.50" y2="1559.45" stroke="#000" stroke-width="2.1" stroke-linecap="butt"/>
<text x="1041.70" y="1567.14" font-size="24.8" text-anchor="end">4×10<tspan font-size="16.864" dx="2.2319999999999998" dy="-6.944000000000001">3</tspan></text>
<line x1="1044.90" y1="1510.68" x2="1052.50" y2="1510.68" stroke="#000" stroke-width="2.1" stroke-linecap="butt"/>
<text x="1041.70" y="1518.36" font-size="24.8" text-anchor="end">6×10<tspan font-size="16.864" dx="2.2319999999999998" dy="-6.944000000000001">3</tspan></text>
<line x1="1044.90" y1="1461.90" x2="1052.50" y2="1461.90" stroke="#000" stroke-width="2.1" stroke-linecap="butt"/>
<text x="1041.70" y="1469.59" font-size="24.8" text-anchor="end">8×10<tspan font-size="16.864" dx="2.2319999999999998" dy="-6.944000000000001">3</tspan></text>
<line x1="1089.60" y1="1657.00" x2="1089.60" y2="1664.60" stroke="#000" stroke-width="2.1" stroke-linecap="butt"/>
<line x1="1145.10" y1="1657.00" x2="1145.10" y2="1664.60" stroke="#000" stroke-width="2.1" stroke-linecap="butt"/>
<circle cx="1077.00" cy="1532.62" r="4.75" fill="#fff" stroke="#000" stroke-width="1.75"/>
<circle cx="1084.00" cy="1533.84" r="4.75" fill="#fff" stroke="#000" stroke-width="1.75"/>
<circle cx="1089.00" cy="1528.97" r="4.75" fill="#fff" stroke="#000" stroke-width="1.75"/>
<circle cx="1096.00" cy="1527.75" r="4.75" fill="#fff" stroke="#000" stroke-width="1.75"/>
<circle cx="1103.00" cy="1525.31" r="4.75" fill="#fff" stroke="#000" stroke-width="1.75"/>
<circle cx="1084.00" cy="1542.38" r="4.75" fill="#fff" stroke="#000" stroke-width="1.75"/>
<circle cx="1089.00" cy="1537.50" r="4.75" fill="#fff" stroke="#000" stroke-width="1.75"/>
<circle cx="1096.00" cy="1546.04" r="4.75" fill="#fff" stroke="#000" stroke-width="1.75"/>
<circle cx="1103.00" cy="1542.38" r="4.75" fill="#fff" stroke="#000" stroke-width="1.75"/>
<circle cx="1089.00" cy="1559.45" r="4.75" fill="#fff" stroke="#000" stroke-width="1.75"/>
<polygon points="1145.00,1497.42 1150.10,1507.32 1139.90,1507.32" fill="#fff" stroke="#000" stroke-width="1.9" stroke-linejoin="round"/>
<polygon points="1145.00,1521.81 1150.10,1531.71 1139.90,1531.71" fill="#fff" stroke="#000" stroke-width="1.9" stroke-linejoin="round"/>
<polygon points="1145.00,1534.00 1150.10,1543.90 1139.90,1543.90" fill="#fff" stroke="#000" stroke-width="1.9" stroke-linejoin="round"/>
<polygon points="1132.00,1540.10 1137.10,1550.00 1126.90,1550.00" fill="#fff" stroke="#000" stroke-width="1.9" stroke-linejoin="round"/>
<polygon points="1158.00,1542.54 1163.10,1552.44 1152.90,1552.44" fill="#fff" stroke="#000" stroke-width="1.9" stroke-linejoin="round"/>
<polygon points="1145.00,1543.76 1150.10,1553.66 1139.90,1553.66" fill="#fff" stroke="#000" stroke-width="1.9" stroke-linejoin="round"/>
<polygon points="1132.00,1553.51 1137.10,1563.41 1126.90,1563.41" fill="#fff" stroke="#000" stroke-width="1.9" stroke-linejoin="round"/>
<polygon points="1158.00,1553.51 1163.10,1563.41 1152.90,1563.41" fill="#fff" stroke="#000" stroke-width="1.9" stroke-linejoin="round"/>
<polygon points="1139.00,1566.92 1144.10,1576.82 1133.90,1576.82" fill="#fff" stroke="#000" stroke-width="1.9" stroke-linejoin="round"/>
<polygon points="1152.00,1564.48 1157.10,1574.38 1146.90,1574.38" fill="#fff" stroke="#000" stroke-width="1.9" stroke-linejoin="round"/>
<polyline points="1089.60,1513.00 1089.60,1479.00 1145.10,1479.00 1145.10,1490.00" fill="none" stroke="#000" stroke-width="2.0" stroke-linejoin="miter"/>
<text x="1117.40" y="1467.30" font-size="24.8" text-anchor="middle"><tspan font-style="italic">P</tspan> = 0.2831</text>
<text transform="translate(953.40,1546.00) rotate(-90)" font-size="24.8" text-anchor="middle">CD69 MFI</text>
<text transform="translate(1098.10,1685.00) rotate(-45)" font-size="24.7" text-anchor="end">HER2 CAR-T</text>
<text transform="translate(1153.60,1685.00) rotate(-45)" font-size="24.7" text-anchor="end">IL-10 HER2 CAR-T</text>
<text transform="translate(917.00,1433.10) scale(1.1,1)" font-size="34" font-weight="bold" style="stroke-width:1.5px">p</text>
<rect x="1334.70" y="1470.90" width="36.20" height="187.10" fill="#808080"/>
<rect x="1389.00" y="1473.82" width="36.70" height="184.18" fill="#fe7f7f"/>
<line x1="1315.40" y1="1462.10" x2="1315.40" y2="1659.05" stroke="#000" stroke-width="2.1" stroke-linecap="butt"/>
<line x1="1307.80" y1="1658.00" x2="1444.60" y2="1658.00" stroke="#000" stroke-width="2.1" stroke-linecap="butt"/>
<line x1="1307.80" y1="1658.00" x2="1315.40" y2="1658.00" stroke="#000" stroke-width="2.1" stroke-linecap="butt"/>
<text x="1304.60" y="1666.12" font-size="23.2" text-anchor="end">0</text>
<line x1="1307.80" y1="1619.02" x2="1315.40" y2="1619.02" stroke="#000" stroke-width="2.1" stroke-linecap="butt"/>
<text x="1304.60" y="1627.14" font-size="23.2" text-anchor="end">20</text>
<line x1="1307.80" y1="1580.04" x2="1315.40" y2="1580.04" stroke="#000" stroke-width="2.1" stroke-linecap="butt"/>
<text x="1304.60" y="1588.16" font-size="23.2" text-anchor="end">40</text>
<line x1="1307.80" y1="1541.06" x2="1315.40" y2="1541.06" stroke="#000" stroke-width="2.1" stroke-linecap="butt"/>
<text x="1304.60" y="1549.18" font-size="23.2" text-anchor="end">60</text>
<line x1="1307.80" y1="1502.08" x2="1315.40" y2="1502.08" stroke="#000" stroke-width="2.1" stroke-linecap="butt"/>
<text x="1304.60" y="1510.20" font-size="23.2" text-anchor="end">80</text>
<line x1="1307.80" y1="1463.10" x2="1315.40" y2="1463.10" stroke="#000" stroke-width="2.1" stroke-linecap="butt"/>
<text x="1304.60" y="1471.22" font-size="23.2" text-anchor="end">100</text>
<line x1="1352.50" y1="1658.00" x2="1352.50" y2="1665.60" stroke="#000" stroke-width="2.1" stroke-linecap="butt"/>
<line x1="1407.30" y1="1658.00" x2="1407.30" y2="1665.60" stroke="#000" stroke-width="2.1" stroke-linecap="butt"/>
<circle cx="1339.00" cy="1467.00" r="4.75" fill="#fff" stroke="#000" stroke-width="1.75"/>
<circle cx="1346.00" cy="1468.95" r="4.75" fill="#fff" stroke="#000" stroke-width="1.75"/>
<circle cx="1353.00" cy="1467.00" r="4.75" fill="#fff" stroke="#000" stroke-width="1.75"/>
<circle cx="1360.00" cy="1468.95" r="4.75" fill="#fff" stroke="#000" stroke-width="1.75"/>
<circle cx="1366.00" cy="1468.95" r="4.75" fill="#fff" stroke="#000" stroke-width="1.75"/>
<circle cx="1343.00" cy="1472.84" r="4.75" fill="#fff" stroke="#000" stroke-width="1.75"/>
<circle cx="1350.00" cy="1470.90" r="4.75" fill="#fff" stroke="#000" stroke-width="1.75"/>
<circle cx="1357.00" cy="1472.84" r="4.75" fill="#fff" stroke="#000" stroke-width="1.75"/>
<circle cx="1364.00" cy="1472.84" r="4.75" fill="#fff" stroke="#000" stroke-width="1.75"/>
<circle cx="1350.00" cy="1474.79" r="4.75" fill="#fff" stroke="#000" stroke-width="1.75"/>
<polygon points="1396.00,1463.01 1401.10,1472.91 1390.90,1472.91" fill="#fff" stroke="#000" stroke-width="1.9" stroke-linejoin="round"/>
<polygon points="1403.00,1463.01 1408.10,1472.91 1397.90,1472.91" fill="#fff" stroke="#000" stroke-width="1.9" stroke-linejoin="round"/>
<polygon points="1410.00,1463.01 1415.10,1472.91 1404.90,1472.91" fill="#fff" stroke="#000" stroke-width="1.9" stroke-linejoin="round"/>
<polygon points="1417.00,1464.96 1422.10,1474.86 1411.90,1474.86" fill="#fff" stroke="#000" stroke-width="1.9" stroke-linejoin="round"/>
<polygon points="1422.00,1466.90 1427.10,1476.80 1416.90,1476.80" fill="#fff" stroke="#000" stroke-width="1.9" stroke-linejoin="round"/>
<polygon points="1394.00,1466.90 1399.10,1476.80 1388.90,1476.80" fill="#fff" stroke="#000" stroke-width="1.9" stroke-linejoin="round"/>
<polygon points="1407.00,1466.90 1412.10,1476.80 1401.90,1476.80" fill="#fff" stroke="#000" stroke-width="1.9" stroke-linejoin="round"/>
<polygon points="1414.00,1468.85 1419.10,1478.75 1408.90,1478.75" fill="#fff" stroke="#000" stroke-width="1.9" stroke-linejoin="round"/>
<polygon points="1420.00,1468.85 1425.10,1478.75 1414.90,1478.75" fill="#fff" stroke="#000" stroke-width="1.9" stroke-linejoin="round"/>
<polygon points="1404.00,1470.80 1409.10,1480.70 1398.90,1480.70" fill="#fff" stroke="#000" stroke-width="1.9" stroke-linejoin="round"/>
<polyline points="1352.50,1453.00 1352.50,1441.50 1407.30,1441.50 1407.30,1453.00" fill="none" stroke="#000" stroke-width="2.0" stroke-linejoin="miter"/>
<text x="1381.40" y="1429.50" font-size="24.2" text-anchor="middle"><tspan font-style="italic">P</tspan> = 0.6001</text>
<text transform="translate(1256.40,1546.50) rotate(-90)" font-size="23.6" text-anchor="middle">% of viable cells</text>
<text transform="translate(1361.00,1685.00) rotate(-45)" font-size="24.7" text-anchor="end">HER2 CAR-T</text>
<text transform="translate(1415.80,1685.00) rotate(-45)" font-size="24.7" text-anchor="end">IL-10 HER2 CAR-T</text>
<text transform="translate(1205.00,1433.10) scale(1.1,1)" font-size="34" font-weight="bold" style="stroke-width:1.5px">q</text>
</svg>
</body></html>
